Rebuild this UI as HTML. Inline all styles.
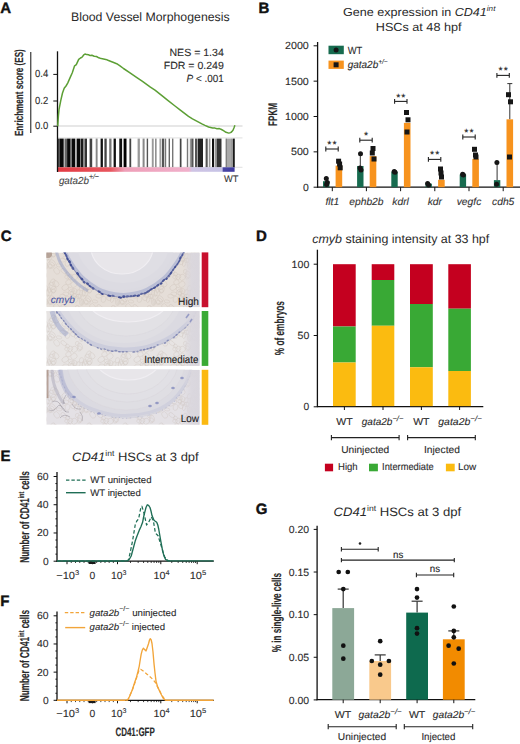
<!DOCTYPE html>
<html><head><meta charset="utf-8"><title>Figure</title>
<style>
html,body{margin:0;padding:0;background:#fff;}
body{width:520px;height:744px;overflow:hidden;}
svg{display:block;font-family:"Liberation Sans",sans-serif;text-rendering:geometricPrecision;}
</style></head>
<body>
<svg width="520" height="744" viewBox="0 0 520 744">
<rect width="520" height="744" fill="#fff"/>
<text x="0.3" y="13.2" font-size="15" fill="#111" font-weight="bold" stroke="#111" stroke-width="0.4">A</text>
<text x="71" y="21.3" font-size="12.2" fill="#2a2a2a" textLength="158.6" lengthAdjust="spacingAndGlyphs" stroke="none">Blood Vessel Morphogenesis</text>
<text transform="translate(22.7,136.1) rotate(-90)" font-size="11.8" fill="#2a2a2a" textLength="86.9" lengthAdjust="spacingAndGlyphs" stroke="#2a2a2a" stroke-width="0.15" font-weight="bold">Enrichment score (ES)</text>
<line x1="30.8" y1="52" x2="30.8" y2="133" stroke="#111" stroke-width="1"/>
<line x1="57.5" y1="126" x2="242.5" y2="126" stroke="#cfcfcf" stroke-width="1"/>
<line x1="57.5" y1="137.9" x2="242.5" y2="137.9" stroke="#d8d8d8" stroke-width="0.8"/>
<line x1="57.5" y1="167.3" x2="242.5" y2="167.3" stroke="#d8d8d8" stroke-width="0.8"/>
<rect x="57.6" y="138.6" width="2.2" height="28.7" fill="#444"/>
<rect x="59.8" y="138.6" width="3.9" height="28.7" fill="#0a0a0a"/>
<rect x="64.5" y="138.6" width="2.6" height="28.7" fill="#666"/>
<rect x="67.1" y="138.6" width="3.5" height="28.7" fill="#0a0a0a"/>
<rect x="70.6" y="138.6" width="1.3" height="28.7" fill="#777"/>
<rect x="71.9" y="138.6" width="3.4" height="28.7" fill="#0a0a0a"/>
<rect x="76.6" y="138.6" width="3.5" height="28.7" fill="#0a0a0a"/>
<rect x="80.5" y="138.6" width="3" height="28.7" fill="#1a1a1a"/>
<rect x="83.5" y="138.6" width="1.3" height="28.7" fill="#888"/>
<rect x="84.8" y="138.6" width="2.2" height="28.7" fill="#333"/>
<rect x="89.6" y="138.6" width="2.6" height="28.7" fill="#444"/>
<rect x="95.7" y="138.6" width="1.9" height="28.7" fill="#888"/>
<rect x="100.6" y="138.6" width="2.3" height="28.7" fill="#111"/>
<rect x="104.4" y="138.6" width="2.3" height="28.7" fill="#444"/>
<rect x="109.2" y="138.6" width="2.3" height="28.7" fill="#777"/>
<rect x="113.6" y="138.6" width="2.3" height="28.7" fill="#111"/>
<rect x="119.3" y="138.6" width="2.8" height="28.7" fill="#111"/>
<rect x="123.6" y="138.6" width="2.9" height="28.7" fill="#000"/>
<rect x="129.4" y="138.6" width="1.8" height="28.7" fill="#444"/>
<rect x="137.6" y="138.6" width="2.3" height="28.7" fill="#999"/>
<rect x="142.6" y="138.6" width="2" height="28.7" fill="#888"/>
<rect x="146.7" y="138.6" width="1.4" height="28.7" fill="#555"/>
<rect x="151.8" y="138.6" width="1.9" height="28.7" fill="#999"/>
<rect x="155.2" y="138.6" width="1.3" height="28.7" fill="#777"/>
<rect x="159.5" y="138.6" width="1.4" height="28.7" fill="#999"/>
<rect x="161.8" y="138.6" width="2.4" height="28.7" fill="#555"/>
<rect x="164.8" y="138.6" width="1.4" height="28.7" fill="#777"/>
<rect x="168.6" y="138.6" width="1.4" height="28.7" fill="#666"/>
<rect x="172" y="138.6" width="1.4" height="28.7" fill="#777"/>
<rect x="179.8" y="138.6" width="1.7" height="28.7" fill="#444"/>
<rect x="186.8" y="138.6" width="1.4" height="28.7" fill="#777"/>
<rect x="189.8" y="138.6" width="1.5" height="28.7" fill="#999"/>
<rect x="191.3" y="138.6" width="2.2" height="28.7" fill="#555"/>
<rect x="195" y="138.6" width="2.2" height="28.7" fill="#555"/>
<rect x="197.7" y="138.6" width="5.3" height="28.7" fill="#222"/>
<rect x="205.6" y="138.6" width="2.1" height="28.7" fill="#555"/>
<rect x="208.8" y="138.6" width="1.6" height="28.7" fill="#999"/>
<rect x="212" y="138.6" width="2" height="28.7" fill="#111"/>
<rect x="214.6" y="138.6" width="2.1" height="28.7" fill="#999"/>
<rect x="216.7" y="138.6" width="4.8" height="28.7" fill="#333"/>
<rect x="225.7" y="138.6" width="1.1" height="28.7" fill="#555"/>
<rect x="226.8" y="138.6" width="4.8" height="28.7" fill="#aaa"/>
<rect x="231.6" y="138.6" width="1" height="28.7" fill="#555"/>
<rect x="233.1" y="138.6" width="1.6" height="28.7" fill="#000"/>
<defs><linearGradient id="cbA" x1="57.5" x2="234.6" y1="0" y2="0" gradientUnits="userSpaceOnUse">
<stop offset="0" stop-color="#e23b43"/><stop offset="0.3" stop-color="#e8565e"/><stop offset="0.38" stop-color="#ee9fb8"/>
<stop offset="0.74" stop-color="#f0b0cb"/><stop offset="0.76" stop-color="#cfc4e4"/><stop offset="0.93" stop-color="#c6c3e6"/>
<stop offset="0.935" stop-color="#4a47a6"/><stop offset="1" stop-color="#3e3aa0"/></linearGradient></defs>
<rect x="57.5" y="167.3" width="177.1" height="4.5" fill="url(#cbA)"/>
<line x1="57.5" y1="51.3" x2="57.5" y2="172" stroke="#111" stroke-width="1.3"/>
<line x1="53.3" y1="74.4" x2="57.5" y2="74.4" stroke="#111" stroke-width="1"/>
<text x="48.3" y="77.4" font-size="10.4" fill="#2a2a2a" text-anchor="end" textLength="13.2" lengthAdjust="spacingAndGlyphs" stroke="#2a2a2a" stroke-width="0.1">0.4</text>
<line x1="53.3" y1="101" x2="57.5" y2="101" stroke="#111" stroke-width="1"/>
<text x="48.3" y="104" font-size="10.4" fill="#2a2a2a" text-anchor="end" textLength="13.2" lengthAdjust="spacingAndGlyphs" stroke="#2a2a2a" stroke-width="0.1">0.2</text>
<line x1="53.3" y1="126.2" x2="57.5" y2="126.2" stroke="#111" stroke-width="1"/>
<text x="48.3" y="129.2" font-size="10.4" fill="#2a2a2a" text-anchor="end" textLength="13.2" lengthAdjust="spacingAndGlyphs" stroke="#2a2a2a" stroke-width="0.1">0.0</text>
<polyline points="57.7,126.3 58.4,116 59,109.6 60.8,100.4 62.5,93 64.2,88.3 66,86 67.7,83.1 70,77.9 72.3,72.7 74.6,65.8 76.3,64.6 78.7,59.4 80.5,58 82.1,57.1 83.5,55.2 85,54 86.8,54.6 88.5,54.8 90.2,55.6 91.9,55.2 94.2,56.2 96.5,56.5 98.8,57.8 101.2,58.6 103.5,58.9 105.8,59.4 108,60.3 110.4,61.2 113,62.2 116.7,63.7 120,65.8 123.5,68.5 130,72.8 136.9,77.6 142.5,81.4 150.4,87.2 155,90.2 163.8,97.2 167.5,100.1 175,106 180,109.8 188.5,116.3 192.5,118.8 201.9,123.9 205,125.4 208.6,127 212.7,128 215,128.1 217,128.8 219.4,128.6 221.5,129.5 223.5,130.7 226,132.3 228.8,133.1 230.5,132.6 231.5,132 233,130.3 234.2,127.3 234.9,125.3" fill="none" stroke="#5c9f35" stroke-width="1.5" stroke-linejoin="round"/>
<text x="223.8" y="55.5" font-size="10.4" fill="#2a2a2a" text-anchor="end" textLength="54.3" lengthAdjust="spacingAndGlyphs" stroke="#2a2a2a" stroke-width="0.1">NES = 1.34</text>
<text x="223.8" y="69.3" font-size="10.4" fill="#2a2a2a" text-anchor="end" textLength="60" lengthAdjust="spacingAndGlyphs" stroke="#2a2a2a" stroke-width="0.1">FDR = 0.249</text>
<text x="223.8" y="82.3" font-size="10.4" fill="#2a2a2a" text-anchor="end" textLength="37.3" lengthAdjust="spacingAndGlyphs" stroke="#2a2a2a" stroke-width="0.1"><tspan font-style="italic">P</tspan> &lt; .001</text>
<text x="58.9" y="183.6" font-size="10.2" fill="#444" font-style="italic" textLength="40" lengthAdjust="spacingAndGlyphs" stroke="#444" stroke-width="0.1">gata2b<tspan font-size="7.2" dy="-4.9" font-style="italic">+/−</tspan></text>
<text x="224" y="182.4" font-size="9.6" fill="#333" textLength="14.4" lengthAdjust="spacingAndGlyphs" stroke="#333" stroke-width="0.1">WT</text>
<text x="258.5" y="13.2" font-size="15" fill="#111" font-weight="bold" stroke="#111" stroke-width="0.4">B</text>
<text x="343" y="15.5" font-size="11.6" fill="#2a2a2a" textLength="152.4" lengthAdjust="spacingAndGlyphs" stroke="none">Gene expression in <tspan font-style="italic">CD41</tspan><tspan font-style="italic" font-size="7.5" dy="-4.6">int</tspan></text>
<text x="375.8" y="30.5" font-size="11.8" fill="#2a2a2a" textLength="85.7" lengthAdjust="spacingAndGlyphs" stroke="none">HSCs at 48 hpf</text>
<text transform="translate(277,125.9) rotate(-90)" font-size="12.5" fill="#2a2a2a" textLength="22.8" lengthAdjust="spacingAndGlyphs" stroke="#2a2a2a" stroke-width="0.15" font-weight="bold">FPKM</text>
<line x1="317.6" y1="42" x2="317.6" y2="187.7" stroke="#111" stroke-width="1.3"/>
<line x1="317.1" y1="187.2" x2="520" y2="187.2" stroke="#111" stroke-width="1.3"/>
<line x1="313.6" y1="187.2" x2="317.6" y2="187.2" stroke="#111" stroke-width="1"/>
<text x="308.8" y="190.8" font-size="10.4" fill="#2a2a2a" text-anchor="end" textLength="5.8" lengthAdjust="spacingAndGlyphs" stroke="#2a2a2a" stroke-width="0.1">0</text>
<line x1="313.6" y1="151.85" x2="317.6" y2="151.85" stroke="#111" stroke-width="1"/>
<text x="308.8" y="155.45" font-size="10.4" fill="#2a2a2a" text-anchor="end" textLength="17.8" lengthAdjust="spacingAndGlyphs" stroke="#2a2a2a" stroke-width="0.1">500</text>
<line x1="313.6" y1="116.5" x2="317.6" y2="116.5" stroke="#111" stroke-width="1"/>
<text x="308.8" y="120.1" font-size="10.4" fill="#2a2a2a" text-anchor="end" textLength="23.8" lengthAdjust="spacingAndGlyphs" stroke="#2a2a2a" stroke-width="0.1">1000</text>
<line x1="313.6" y1="81.15" x2="317.6" y2="81.15" stroke="#111" stroke-width="1"/>
<text x="308.8" y="84.75" font-size="10.4" fill="#2a2a2a" text-anchor="end" textLength="23.8" lengthAdjust="spacingAndGlyphs" stroke="#2a2a2a" stroke-width="0.1">1500</text>
<line x1="313.6" y1="45.8" x2="317.6" y2="45.8" stroke="#111" stroke-width="1"/>
<text x="308.8" y="49.4" font-size="10.4" fill="#2a2a2a" text-anchor="end" textLength="23.8" lengthAdjust="spacingAndGlyphs" stroke="#2a2a2a" stroke-width="0.1">2000</text>
<line x1="332.3" y1="187.2" x2="332.3" y2="191.2" stroke="#111" stroke-width="1"/>
<line x1="366.4" y1="187.2" x2="366.4" y2="191.2" stroke="#111" stroke-width="1"/>
<line x1="400.6" y1="187.2" x2="400.6" y2="191.2" stroke="#111" stroke-width="1"/>
<line x1="434.8" y1="187.2" x2="434.8" y2="191.2" stroke="#111" stroke-width="1"/>
<line x1="469" y1="187.2" x2="469" y2="191.2" stroke="#111" stroke-width="1"/>
<line x1="503.2" y1="187.2" x2="503.2" y2="191.2" stroke="#111" stroke-width="1"/>
<rect x="323" y="181.19" width="6.4" height="6.01" fill="#176b4f"/>
<rect x="335.6" y="165.64" width="6.6" height="21.56" fill="#f7931e"/>
<circle cx="326.3" cy="178.5" r="2.5" fill="#161616"/>
<circle cx="327.3" cy="182.5" r="2.5" fill="#161616"/>
<circle cx="326.6" cy="184.5" r="2.5" fill="#161616"/>
<rect x="336.1" y="158.7" width="5" height="5" fill="#161616"/>
<rect x="337.1" y="161.5" width="5" height="5" fill="#161616"/>
<rect x="337.7" y="165.3" width="5" height="5" fill="#161616"/>
<line x1="360.3" y1="153.7" x2="360.3" y2="165.99" stroke="#333" stroke-width="1"/>
<rect x="357.1" y="165.99" width="6.4" height="21.21" fill="#176b4f"/>
<rect x="369.7" y="156.09" width="6.6" height="31.11" fill="#f7931e"/>
<circle cx="360.5" cy="153.7" r="2.5" fill="#161616"/>
<circle cx="360" cy="168" r="2.5" fill="#161616"/>
<circle cx="361" cy="170" r="2.5" fill="#161616"/>
<rect x="370.5" y="146" width="5" height="5" fill="#161616"/>
<rect x="369.8" y="150.5" width="5" height="5" fill="#161616"/>
<rect x="371.5" y="156.5" width="5" height="5" fill="#161616"/>
<rect x="391.3" y="171.65" width="6.4" height="15.55" fill="#176b4f"/>
<rect x="403.9" y="122.86" width="6.6" height="64.34" fill="#f7931e"/>
<circle cx="394.2" cy="171.6" r="2.5" fill="#161616"/>
<circle cx="395" cy="172.2" r="2.5" fill="#161616"/>
<rect x="404" y="110" width="5" height="5" fill="#161616"/>
<rect x="405.5" y="117.3" width="5" height="5" fill="#161616"/>
<rect x="404.5" y="129.5" width="5" height="5" fill="#161616"/>
<rect x="425.5" y="183.66" width="6.4" height="3.53" fill="#176b4f"/>
<rect x="438.1" y="179.78" width="6.6" height="7.42" fill="#f7931e"/>
<circle cx="427.6" cy="183.5" r="2.5" fill="#161616"/>
<circle cx="428.6" cy="185" r="2.5" fill="#161616"/>
<rect x="438" y="166.5" width="5" height="5" fill="#161616"/>
<rect x="438.5" y="170.5" width="5" height="5" fill="#161616"/>
<rect x="439" y="174.5" width="5" height="5" fill="#161616"/>
<rect x="459.7" y="174.47" width="6.4" height="12.73" fill="#176b4f"/>
<rect x="472.3" y="158.92" width="6.6" height="28.28" fill="#f7931e"/>
<circle cx="462.6" cy="174.3" r="2.5" fill="#161616"/>
<circle cx="463.4" cy="175" r="2.5" fill="#161616"/>
<rect x="472" y="146.8" width="5" height="5" fill="#161616"/>
<rect x="473" y="152.5" width="5" height="5" fill="#161616"/>
<rect x="473.5" y="154.5" width="5" height="5" fill="#161616"/>
<line x1="497.1" y1="162.4" x2="497.1" y2="180.13" stroke="#333" stroke-width="1"/>
<line x1="509.8" y1="83.6" x2="509.8" y2="119.33" stroke="#333" stroke-width="1"/>
<line x1="507.3" y1="83.6" x2="512.3" y2="83.6" stroke="#333" stroke-width="1"/>
<rect x="493.9" y="180.13" width="6.4" height="7.07" fill="#176b4f"/>
<rect x="506.5" y="119.33" width="6.6" height="67.87" fill="#f7931e"/>
<circle cx="496.9" cy="162.4" r="2.5" fill="#161616"/>
<circle cx="496.6" cy="184.2" r="2.5" fill="#161616"/>
<rect x="506" y="92.2" width="5" height="5" fill="#161616"/>
<rect x="508" y="99.3" width="5" height="5" fill="#161616"/>
<rect x="507" y="154.5" width="5" height="5" fill="#161616"/>
<line x1="325.8" y1="149" x2="338.2" y2="149" stroke="#222" stroke-width="1.1"/>
<line x1="325.8" y1="146.6" x2="325.8" y2="151.4" stroke="#222" stroke-width="1.1"/>
<line x1="338.2" y1="146.6" x2="338.2" y2="151.4" stroke="#222" stroke-width="1.1"/>
<text x="329.4" y="148" font-size="10.5" fill="#1a1a1a" text-anchor="middle" stroke="#1a1a1a" stroke-width="0.1">*</text>
<text x="334.6" y="148" font-size="10.5" fill="#1a1a1a" text-anchor="middle" stroke="#1a1a1a" stroke-width="0.1">*</text>
<line x1="359.8" y1="140.2" x2="372.2" y2="140.2" stroke="#222" stroke-width="1.1"/>
<line x1="359.8" y1="137.8" x2="359.8" y2="142.6" stroke="#222" stroke-width="1.1"/>
<line x1="372.2" y1="137.8" x2="372.2" y2="142.6" stroke="#222" stroke-width="1.1"/>
<text x="366" y="138.8" font-size="10.5" fill="#1a1a1a" text-anchor="middle" stroke="#1a1a1a" stroke-width="0.1">*</text>
<line x1="394.6" y1="101.4" x2="407" y2="101.4" stroke="#222" stroke-width="1.1"/>
<line x1="394.6" y1="99" x2="394.6" y2="103.8" stroke="#222" stroke-width="1.1"/>
<line x1="407" y1="99" x2="407" y2="103.8" stroke="#222" stroke-width="1.1"/>
<text x="398.2" y="100.5" font-size="10.5" fill="#1a1a1a" text-anchor="middle" stroke="#1a1a1a" stroke-width="0.1">*</text>
<text x="403.4" y="100.5" font-size="10.5" fill="#1a1a1a" text-anchor="middle" stroke="#1a1a1a" stroke-width="0.1">*</text>
<line x1="428.4" y1="159.4" x2="440.8" y2="159.4" stroke="#222" stroke-width="1.1"/>
<line x1="428.4" y1="157" x2="428.4" y2="161.8" stroke="#222" stroke-width="1.1"/>
<line x1="440.8" y1="157" x2="440.8" y2="161.8" stroke="#222" stroke-width="1.1"/>
<text x="432" y="158.2" font-size="10.5" fill="#1a1a1a" text-anchor="middle" stroke="#1a1a1a" stroke-width="0.1">*</text>
<text x="437.2" y="158.2" font-size="10.5" fill="#1a1a1a" text-anchor="middle" stroke="#1a1a1a" stroke-width="0.1">*</text>
<line x1="462.8" y1="137" x2="475.2" y2="137" stroke="#222" stroke-width="1.1"/>
<line x1="462.8" y1="134.6" x2="462.8" y2="139.4" stroke="#222" stroke-width="1.1"/>
<line x1="475.2" y1="134.6" x2="475.2" y2="139.4" stroke="#222" stroke-width="1.1"/>
<text x="466.4" y="135.9" font-size="10.5" fill="#1a1a1a" text-anchor="middle" stroke="#1a1a1a" stroke-width="0.1">*</text>
<text x="471.6" y="135.9" font-size="10.5" fill="#1a1a1a" text-anchor="middle" stroke="#1a1a1a" stroke-width="0.1">*</text>
<line x1="496.9" y1="75.4" x2="509.3" y2="75.4" stroke="#222" stroke-width="1.1"/>
<line x1="496.9" y1="73" x2="496.9" y2="77.8" stroke="#222" stroke-width="1.1"/>
<line x1="509.3" y1="73" x2="509.3" y2="77.8" stroke="#222" stroke-width="1.1"/>
<text x="500.5" y="74.1" font-size="10.5" fill="#1a1a1a" text-anchor="middle" stroke="#1a1a1a" stroke-width="0.1">*</text>
<text x="505.7" y="74.1" font-size="10.5" fill="#1a1a1a" text-anchor="middle" stroke="#1a1a1a" stroke-width="0.1">*</text>
<rect x="328.5" y="45.7" width="15.3" height="8.5" fill="#176b4f"/>
<circle cx="336.1" cy="50" r="2.5" fill="#161616"/>
<text x="347.7" y="53.5" font-size="10.3" fill="#2a2a2a" textLength="14.6" lengthAdjust="spacingAndGlyphs" stroke="#2a2a2a" stroke-width="0.1">WT</text>
<rect x="328.5" y="60.6" width="15.3" height="8.3" fill="#f7931e"/>
<rect x="333.6" y="62.3" width="5" height="5" fill="#161616"/>
<text x="347.7" y="68.2" font-size="10.3" fill="#2a2a2a" font-style="italic" textLength="40" lengthAdjust="spacingAndGlyphs" stroke="#2a2a2a" stroke-width="0.1">gata2b<tspan font-size="6.8" dy="-4.2">+/−</tspan></text>
<text x="332.3" y="205.2" font-size="10.3" fill="#333" font-style="italic" text-anchor="middle" stroke="#333" stroke-width="0.1">flt1</text>
<text x="366.4" y="205.2" font-size="10.3" fill="#333" font-style="italic" text-anchor="middle" stroke="#333" stroke-width="0.1">ephb2b</text>
<text x="400.6" y="205.2" font-size="10.3" fill="#333" font-style="italic" text-anchor="middle" stroke="#333" stroke-width="0.1">kdrl</text>
<text x="434.8" y="205.2" font-size="10.3" fill="#333" font-style="italic" text-anchor="middle" stroke="#333" stroke-width="0.1">kdr</text>
<text x="469" y="205.2" font-size="10.3" fill="#333" font-style="italic" text-anchor="middle" stroke="#333" stroke-width="0.1">vegfc</text>
<text x="503.2" y="205.2" font-size="10.3" fill="#333" font-style="italic" text-anchor="middle" stroke="#333" stroke-width="0.1">cdh5</text>
<text x="0.8" y="241.3" font-size="15" fill="#111" font-weight="bold" stroke="#111" stroke-width="0.4">C</text>
<defs>
<clipPath id="c1"><rect x="46.3" y="252.4" width="153.3" height="54.8"/></clipPath>
<clipPath id="c2"><rect x="46.3" y="311" width="153.3" height="54.9"/></clipPath>
<clipPath id="c3"><rect x="46.3" y="369.8" width="153.3" height="55"/></clipPath>
<linearGradient id="rstrip" x1="0" x2="1" y1="0" y2="0"><stop offset="0" stop-color="#dad7de" stop-opacity="0"/><stop offset="0.5" stop-color="#dad7de" stop-opacity="0.9"/><stop offset="1" stop-color="#d9d6dd" stop-opacity="1"/></linearGradient>
<filter id="tex" x="0" y="0" width="1" height="1"><feTurbulence type="fractalNoise" baseFrequency="0.35" numOctaves="2" seed="3"/>
<feColorMatrix values="0 0 0 0 0.55  0 0 0 0 0.45  0 0 0 0 0.38  0 0 0 0.9 -0.35"/></filter>
</defs>
<defs><pattern id="cellpat" patternUnits="userSpaceOnUse" width="36" height="36"><g fill="none" stroke="#b9aa9e" stroke-width="0.5" opacity="0.4"><ellipse cx="-24.34" cy="-30.57" rx="3.1" ry="1.52" transform="rotate(96.46 -24.34 -30.57)"/><ellipse cx="-24.34" cy="5.43" rx="3.1" ry="1.52" transform="rotate(96.46 -24.34 5.43)"/><ellipse cx="-24.34" cy="41.43" rx="3.1" ry="1.52" transform="rotate(96.46 -24.34 41.43)"/><ellipse cx="11.66" cy="-30.57" rx="3.1" ry="1.52" transform="rotate(96.46 11.66 -30.57)"/><ellipse cx="11.66" cy="5.43" rx="3.1" ry="1.52" transform="rotate(96.46 11.66 5.43)"/><ellipse cx="11.66" cy="41.43" rx="3.1" ry="1.52" transform="rotate(96.46 11.66 41.43)"/><ellipse cx="47.66" cy="-30.57" rx="3.1" ry="1.52" transform="rotate(96.46 47.66 -30.57)"/><ellipse cx="47.66" cy="5.43" rx="3.1" ry="1.52" transform="rotate(96.46 47.66 5.43)"/><ellipse cx="47.66" cy="41.43" rx="3.1" ry="1.52" transform="rotate(96.46 47.66 41.43)"/><ellipse cx="-22.84" cy="-33.91" rx="2.81" ry="1.46" transform="rotate(78.06 -22.84 -33.91)"/><ellipse cx="-22.84" cy="2.09" rx="2.81" ry="1.46" transform="rotate(78.06 -22.84 2.09)"/><ellipse cx="-22.84" cy="38.09" rx="2.81" ry="1.46" transform="rotate(78.06 -22.84 38.09)"/><ellipse cx="13.16" cy="-33.91" rx="2.81" ry="1.46" transform="rotate(78.06 13.16 -33.91)"/><ellipse cx="13.16" cy="2.09" rx="2.81" ry="1.46" transform="rotate(78.06 13.16 2.09)"/><ellipse cx="13.16" cy="38.09" rx="2.81" ry="1.46" transform="rotate(78.06 13.16 38.09)"/><ellipse cx="49.16" cy="-33.91" rx="2.81" ry="1.46" transform="rotate(78.06 49.16 -33.91)"/><ellipse cx="49.16" cy="2.09" rx="2.81" ry="1.46" transform="rotate(78.06 49.16 2.09)"/><ellipse cx="49.16" cy="38.09" rx="2.81" ry="1.46" transform="rotate(78.06 49.16 38.09)"/><ellipse cx="-33.49" cy="-32.73" rx="2.65" ry="2.72" transform="rotate(22.28 -33.49 -32.73)"/><ellipse cx="-33.49" cy="3.27" rx="2.65" ry="2.72" transform="rotate(22.28 -33.49 3.27)"/><ellipse cx="-33.49" cy="39.27" rx="2.65" ry="2.72" transform="rotate(22.28 -33.49 39.27)"/><ellipse cx="2.51" cy="-32.73" rx="2.65" ry="2.72" transform="rotate(22.28 2.51 -32.73)"/><ellipse cx="2.51" cy="3.27" rx="2.65" ry="2.72" transform="rotate(22.28 2.51 3.27)"/><ellipse cx="2.51" cy="39.27" rx="2.65" ry="2.72" transform="rotate(22.28 2.51 39.27)"/><ellipse cx="38.51" cy="-32.73" rx="2.65" ry="2.72" transform="rotate(22.28 38.51 -32.73)"/><ellipse cx="38.51" cy="3.27" rx="2.65" ry="2.72" transform="rotate(22.28 38.51 3.27)"/><ellipse cx="38.51" cy="39.27" rx="2.65" ry="2.72" transform="rotate(22.28 38.51 39.27)"/><ellipse cx="-27.96" cy="-13.41" rx="3.7" ry="2.32" transform="rotate(71.4 -27.96 -13.41)"/><ellipse cx="-27.96" cy="22.59" rx="3.7" ry="2.32" transform="rotate(71.4 -27.96 22.59)"/><ellipse cx="-27.96" cy="58.59" rx="3.7" ry="2.32" transform="rotate(71.4 -27.96 58.59)"/><ellipse cx="8.04" cy="-13.41" rx="3.7" ry="2.32" transform="rotate(71.4 8.04 -13.41)"/><ellipse cx="8.04" cy="22.59" rx="3.7" ry="2.32" transform="rotate(71.4 8.04 22.59)"/><ellipse cx="8.04" cy="58.59" rx="3.7" ry="2.32" transform="rotate(71.4 8.04 58.59)"/><ellipse cx="44.04" cy="-13.41" rx="3.7" ry="2.32" transform="rotate(71.4 44.04 -13.41)"/><ellipse cx="44.04" cy="22.59" rx="3.7" ry="2.32" transform="rotate(71.4 44.04 22.59)"/><ellipse cx="44.04" cy="58.59" rx="3.7" ry="2.32" transform="rotate(71.4 44.04 58.59)"/><ellipse cx="-0.85" cy="-34.32" rx="3.52" ry="1.86" transform="rotate(25.97 -0.85 -34.32)"/><ellipse cx="-0.85" cy="1.68" rx="3.52" ry="1.86" transform="rotate(25.97 -0.85 1.68)"/><ellipse cx="-0.85" cy="37.68" rx="3.52" ry="1.86" transform="rotate(25.97 -0.85 37.68)"/><ellipse cx="35.15" cy="-34.32" rx="3.52" ry="1.86" transform="rotate(25.97 35.15 -34.32)"/><ellipse cx="35.15" cy="1.68" rx="3.52" ry="1.86" transform="rotate(25.97 35.15 1.68)"/><ellipse cx="35.15" cy="37.68" rx="3.52" ry="1.86" transform="rotate(25.97 35.15 37.68)"/><ellipse cx="71.15" cy="-34.32" rx="3.52" ry="1.86" transform="rotate(25.97 71.15 -34.32)"/><ellipse cx="71.15" cy="1.68" rx="3.52" ry="1.86" transform="rotate(25.97 71.15 1.68)"/><ellipse cx="71.15" cy="37.68" rx="3.52" ry="1.86" transform="rotate(25.97 71.15 37.68)"/><ellipse cx="-31.76" cy="-24.89" rx="3.43" ry="1.69" transform="rotate(104.69 -31.76 -24.89)"/><ellipse cx="-31.76" cy="11.11" rx="3.43" ry="1.69" transform="rotate(104.69 -31.76 11.11)"/><ellipse cx="-31.76" cy="47.11" rx="3.43" ry="1.69" transform="rotate(104.69 -31.76 47.11)"/><ellipse cx="4.24" cy="-24.89" rx="3.43" ry="1.69" transform="rotate(104.69 4.24 -24.89)"/><ellipse cx="4.24" cy="11.11" rx="3.43" ry="1.69" transform="rotate(104.69 4.24 11.11)"/><ellipse cx="4.24" cy="47.11" rx="3.43" ry="1.69" transform="rotate(104.69 4.24 47.11)"/><ellipse cx="40.24" cy="-24.89" rx="3.43" ry="1.69" transform="rotate(104.69 40.24 -24.89)"/><ellipse cx="40.24" cy="11.11" rx="3.43" ry="1.69" transform="rotate(104.69 40.24 11.11)"/><ellipse cx="40.24" cy="47.11" rx="3.43" ry="1.69" transform="rotate(104.69 40.24 47.11)"/><ellipse cx="-13" cy="-22.59" rx="2.9" ry="1.5" transform="rotate(10.73 -13 -22.59)"/><ellipse cx="-13" cy="13.41" rx="2.9" ry="1.5" transform="rotate(10.73 -13 13.41)"/><ellipse cx="-13" cy="49.41" rx="2.9" ry="1.5" transform="rotate(10.73 -13 49.41)"/><ellipse cx="23" cy="-22.59" rx="2.9" ry="1.5" transform="rotate(10.73 23 -22.59)"/><ellipse cx="23" cy="13.41" rx="2.9" ry="1.5" transform="rotate(10.73 23 13.41)"/><ellipse cx="23" cy="49.41" rx="2.9" ry="1.5" transform="rotate(10.73 23 49.41)"/><ellipse cx="59" cy="-22.59" rx="2.9" ry="1.5" transform="rotate(10.73 59 -22.59)"/><ellipse cx="59" cy="13.41" rx="2.9" ry="1.5" transform="rotate(10.73 59 13.41)"/><ellipse cx="59" cy="49.41" rx="2.9" ry="1.5" transform="rotate(10.73 59 49.41)"/><ellipse cx="-28.59" cy="-11.51" rx="2.66" ry="1.9" transform="rotate(105.4 -28.59 -11.51)"/><ellipse cx="-28.59" cy="24.49" rx="2.66" ry="1.9" transform="rotate(105.4 -28.59 24.49)"/><ellipse cx="-28.59" cy="60.49" rx="2.66" ry="1.9" transform="rotate(105.4 -28.59 60.49)"/><ellipse cx="7.41" cy="-11.51" rx="2.66" ry="1.9" transform="rotate(105.4 7.41 -11.51)"/><ellipse cx="7.41" cy="24.49" rx="2.66" ry="1.9" transform="rotate(105.4 7.41 24.49)"/><ellipse cx="7.41" cy="60.49" rx="2.66" ry="1.9" transform="rotate(105.4 7.41 60.49)"/><ellipse cx="43.41" cy="-11.51" rx="2.66" ry="1.9" transform="rotate(105.4 43.41 -11.51)"/><ellipse cx="43.41" cy="24.49" rx="2.66" ry="1.9" transform="rotate(105.4 43.41 24.49)"/><ellipse cx="43.41" cy="60.49" rx="2.66" ry="1.9" transform="rotate(105.4 43.41 60.49)"/><ellipse cx="-19.69" cy="-25.21" rx="3.39" ry="2.52" transform="rotate(43.94 -19.69 -25.21)"/><ellipse cx="-19.69" cy="10.79" rx="3.39" ry="2.52" transform="rotate(43.94 -19.69 10.79)"/><ellipse cx="-19.69" cy="46.79" rx="3.39" ry="2.52" transform="rotate(43.94 -19.69 46.79)"/><ellipse cx="16.31" cy="-25.21" rx="3.39" ry="2.52" transform="rotate(43.94 16.31 -25.21)"/><ellipse cx="16.31" cy="10.79" rx="3.39" ry="2.52" transform="rotate(43.94 16.31 10.79)"/><ellipse cx="16.31" cy="46.79" rx="3.39" ry="2.52" transform="rotate(43.94 16.31 46.79)"/><ellipse cx="52.31" cy="-25.21" rx="3.39" ry="2.52" transform="rotate(43.94 52.31 -25.21)"/><ellipse cx="52.31" cy="10.79" rx="3.39" ry="2.52" transform="rotate(43.94 52.31 10.79)"/><ellipse cx="52.31" cy="46.79" rx="3.39" ry="2.52" transform="rotate(43.94 52.31 46.79)"/><ellipse cx="-15.32" cy="-17.09" rx="3.55" ry="2.57" transform="rotate(51.83 -15.32 -17.09)"/><ellipse cx="-15.32" cy="18.91" rx="3.55" ry="2.57" transform="rotate(51.83 -15.32 18.91)"/><ellipse cx="-15.32" cy="54.91" rx="3.55" ry="2.57" transform="rotate(51.83 -15.32 54.91)"/><ellipse cx="20.68" cy="-17.09" rx="3.55" ry="2.57" transform="rotate(51.83 20.68 -17.09)"/><ellipse cx="20.68" cy="18.91" rx="3.55" ry="2.57" transform="rotate(51.83 20.68 18.91)"/><ellipse cx="20.68" cy="54.91" rx="3.55" ry="2.57" transform="rotate(51.83 20.68 54.91)"/><ellipse cx="56.68" cy="-17.09" rx="3.55" ry="2.57" transform="rotate(51.83 56.68 -17.09)"/><ellipse cx="56.68" cy="18.91" rx="3.55" ry="2.57" transform="rotate(51.83 56.68 18.91)"/><ellipse cx="56.68" cy="54.91" rx="3.55" ry="2.57" transform="rotate(51.83 56.68 54.91)"/><ellipse cx="-0.71" cy="-31.75" rx="2.64" ry="2.61" transform="rotate(27.36 -0.71 -31.75)"/><ellipse cx="-0.71" cy="4.25" rx="2.64" ry="2.61" transform="rotate(27.36 -0.71 4.25)"/><ellipse cx="-0.71" cy="40.25" rx="2.64" ry="2.61" transform="rotate(27.36 -0.71 40.25)"/><ellipse cx="35.29" cy="-31.75" rx="2.64" ry="2.61" transform="rotate(27.36 35.29 -31.75)"/><ellipse cx="35.29" cy="4.25" rx="2.64" ry="2.61" transform="rotate(27.36 35.29 4.25)"/><ellipse cx="35.29" cy="40.25" rx="2.64" ry="2.61" transform="rotate(27.36 35.29 40.25)"/><ellipse cx="71.29" cy="-31.75" rx="2.64" ry="2.61" transform="rotate(27.36 71.29 -31.75)"/><ellipse cx="71.29" cy="4.25" rx="2.64" ry="2.61" transform="rotate(27.36 71.29 4.25)"/><ellipse cx="71.29" cy="40.25" rx="2.64" ry="2.61" transform="rotate(27.36 71.29 40.25)"/><ellipse cx="-18.4" cy="-34.59" rx="3.14" ry="2.62" transform="rotate(103.14 -18.4 -34.59)"/><ellipse cx="-18.4" cy="1.41" rx="3.14" ry="2.62" transform="rotate(103.14 -18.4 1.41)"/><ellipse cx="-18.4" cy="37.41" rx="3.14" ry="2.62" transform="rotate(103.14 -18.4 37.41)"/><ellipse cx="17.6" cy="-34.59" rx="3.14" ry="2.62" transform="rotate(103.14 17.6 -34.59)"/><ellipse cx="17.6" cy="1.41" rx="3.14" ry="2.62" transform="rotate(103.14 17.6 1.41)"/><ellipse cx="17.6" cy="37.41" rx="3.14" ry="2.62" transform="rotate(103.14 17.6 37.41)"/><ellipse cx="53.6" cy="-34.59" rx="3.14" ry="2.62" transform="rotate(103.14 53.6 -34.59)"/><ellipse cx="53.6" cy="1.41" rx="3.14" ry="2.62" transform="rotate(103.14 53.6 1.41)"/><ellipse cx="53.6" cy="37.41" rx="3.14" ry="2.62" transform="rotate(103.14 53.6 37.41)"/><ellipse cx="-4.48" cy="-24.71" rx="3.19" ry="2.35" transform="rotate(104.38 -4.48 -24.71)"/><ellipse cx="-4.48" cy="11.29" rx="3.19" ry="2.35" transform="rotate(104.38 -4.48 11.29)"/><ellipse cx="-4.48" cy="47.29" rx="3.19" ry="2.35" transform="rotate(104.38 -4.48 47.29)"/><ellipse cx="31.52" cy="-24.71" rx="3.19" ry="2.35" transform="rotate(104.38 31.52 -24.71)"/><ellipse cx="31.52" cy="11.29" rx="3.19" ry="2.35" transform="rotate(104.38 31.52 11.29)"/><ellipse cx="31.52" cy="47.29" rx="3.19" ry="2.35" transform="rotate(104.38 31.52 47.29)"/><ellipse cx="67.52" cy="-24.71" rx="3.19" ry="2.35" transform="rotate(104.38 67.52 -24.71)"/><ellipse cx="67.52" cy="11.29" rx="3.19" ry="2.35" transform="rotate(104.38 67.52 11.29)"/><ellipse cx="67.52" cy="47.29" rx="3.19" ry="2.35" transform="rotate(104.38 67.52 47.29)"/><ellipse cx="-19.58" cy="-5.76" rx="3.69" ry="2.16" transform="rotate(119.55 -19.58 -5.76)"/><ellipse cx="-19.58" cy="30.24" rx="3.69" ry="2.16" transform="rotate(119.55 -19.58 30.24)"/><ellipse cx="-19.58" cy="66.24" rx="3.69" ry="2.16" transform="rotate(119.55 -19.58 66.24)"/><ellipse cx="16.42" cy="-5.76" rx="3.69" ry="2.16" transform="rotate(119.55 16.42 -5.76)"/><ellipse cx="16.42" cy="30.24" rx="3.69" ry="2.16" transform="rotate(119.55 16.42 30.24)"/><ellipse cx="16.42" cy="66.24" rx="3.69" ry="2.16" transform="rotate(119.55 16.42 66.24)"/><ellipse cx="52.42" cy="-5.76" rx="3.69" ry="2.16" transform="rotate(119.55 52.42 -5.76)"/><ellipse cx="52.42" cy="30.24" rx="3.69" ry="2.16" transform="rotate(119.55 52.42 30.24)"/><ellipse cx="52.42" cy="66.24" rx="3.69" ry="2.16" transform="rotate(119.55 52.42 66.24)"/><ellipse cx="-33.82" cy="-10.75" rx="3.09" ry="2.99" transform="rotate(147.95 -33.82 -10.75)"/><ellipse cx="-33.82" cy="25.25" rx="3.09" ry="2.99" transform="rotate(147.95 -33.82 25.25)"/><ellipse cx="-33.82" cy="61.25" rx="3.09" ry="2.99" transform="rotate(147.95 -33.82 61.25)"/><ellipse cx="2.18" cy="-10.75" rx="3.09" ry="2.99" transform="rotate(147.95 2.18 -10.75)"/><ellipse cx="2.18" cy="25.25" rx="3.09" ry="2.99" transform="rotate(147.95 2.18 25.25)"/><ellipse cx="2.18" cy="61.25" rx="3.09" ry="2.99" transform="rotate(147.95 2.18 61.25)"/><ellipse cx="38.18" cy="-10.75" rx="3.09" ry="2.99" transform="rotate(147.95 38.18 -10.75)"/><ellipse cx="38.18" cy="25.25" rx="3.09" ry="2.99" transform="rotate(147.95 38.18 25.25)"/><ellipse cx="38.18" cy="61.25" rx="3.09" ry="2.99" transform="rotate(147.95 38.18 61.25)"/><ellipse cx="-25.75" cy="-22.11" rx="3.14" ry="1.44" transform="rotate(83.11 -25.75 -22.11)"/><ellipse cx="-25.75" cy="13.89" rx="3.14" ry="1.44" transform="rotate(83.11 -25.75 13.89)"/><ellipse cx="-25.75" cy="49.89" rx="3.14" ry="1.44" transform="rotate(83.11 -25.75 49.89)"/><ellipse cx="10.25" cy="-22.11" rx="3.14" ry="1.44" transform="rotate(83.11 10.25 -22.11)"/><ellipse cx="10.25" cy="13.89" rx="3.14" ry="1.44" transform="rotate(83.11 10.25 13.89)"/><ellipse cx="10.25" cy="49.89" rx="3.14" ry="1.44" transform="rotate(83.11 10.25 49.89)"/><ellipse cx="46.25" cy="-22.11" rx="3.14" ry="1.44" transform="rotate(83.11 46.25 -22.11)"/><ellipse cx="46.25" cy="13.89" rx="3.14" ry="1.44" transform="rotate(83.11 46.25 13.89)"/><ellipse cx="46.25" cy="49.89" rx="3.14" ry="1.44" transform="rotate(83.11 46.25 49.89)"/><ellipse cx="-29.95" cy="-31.78" rx="1.92" ry="2.63" transform="rotate(23.28 -29.95 -31.78)"/><ellipse cx="-29.95" cy="4.22" rx="1.92" ry="2.63" transform="rotate(23.28 -29.95 4.22)"/><ellipse cx="-29.95" cy="40.22" rx="1.92" ry="2.63" transform="rotate(23.28 -29.95 40.22)"/><ellipse cx="6.05" cy="-31.78" rx="1.92" ry="2.63" transform="rotate(23.28 6.05 -31.78)"/><ellipse cx="6.05" cy="4.22" rx="1.92" ry="2.63" transform="rotate(23.28 6.05 4.22)"/><ellipse cx="6.05" cy="40.22" rx="1.92" ry="2.63" transform="rotate(23.28 6.05 40.22)"/><ellipse cx="42.05" cy="-31.78" rx="1.92" ry="2.63" transform="rotate(23.28 42.05 -31.78)"/><ellipse cx="42.05" cy="4.22" rx="1.92" ry="2.63" transform="rotate(23.28 42.05 4.22)"/><ellipse cx="42.05" cy="40.22" rx="1.92" ry="2.63" transform="rotate(23.28 42.05 40.22)"/><ellipse cx="-27.09" cy="-21.93" rx="3.54" ry="1.53" transform="rotate(80.85 -27.09 -21.93)"/><ellipse cx="-27.09" cy="14.07" rx="3.54" ry="1.53" transform="rotate(80.85 -27.09 14.07)"/><ellipse cx="-27.09" cy="50.07" rx="3.54" ry="1.53" transform="rotate(80.85 -27.09 50.07)"/><ellipse cx="8.91" cy="-21.93" rx="3.54" ry="1.53" transform="rotate(80.85 8.91 -21.93)"/><ellipse cx="8.91" cy="14.07" rx="3.54" ry="1.53" transform="rotate(80.85 8.91 14.07)"/><ellipse cx="8.91" cy="50.07" rx="3.54" ry="1.53" transform="rotate(80.85 8.91 50.07)"/><ellipse cx="44.91" cy="-21.93" rx="3.54" ry="1.53" transform="rotate(80.85 44.91 -21.93)"/><ellipse cx="44.91" cy="14.07" rx="3.54" ry="1.53" transform="rotate(80.85 44.91 14.07)"/><ellipse cx="44.91" cy="50.07" rx="3.54" ry="1.53" transform="rotate(80.85 44.91 50.07)"/><ellipse cx="-16.22" cy="-4.2" rx="3.44" ry="2.78" transform="rotate(50.12 -16.22 -4.2)"/><ellipse cx="-16.22" cy="31.8" rx="3.44" ry="2.78" transform="rotate(50.12 -16.22 31.8)"/><ellipse cx="-16.22" cy="67.8" rx="3.44" ry="2.78" transform="rotate(50.12 -16.22 67.8)"/><ellipse cx="19.78" cy="-4.2" rx="3.44" ry="2.78" transform="rotate(50.12 19.78 -4.2)"/><ellipse cx="19.78" cy="31.8" rx="3.44" ry="2.78" transform="rotate(50.12 19.78 31.8)"/><ellipse cx="19.78" cy="67.8" rx="3.44" ry="2.78" transform="rotate(50.12 19.78 67.8)"/><ellipse cx="55.78" cy="-4.2" rx="3.44" ry="2.78" transform="rotate(50.12 55.78 -4.2)"/><ellipse cx="55.78" cy="31.8" rx="3.44" ry="2.78" transform="rotate(50.12 55.78 31.8)"/><ellipse cx="55.78" cy="67.8" rx="3.44" ry="2.78" transform="rotate(50.12 55.78 67.8)"/><ellipse cx="-21.05" cy="-23.08" rx="3.57" ry="2.93" transform="rotate(27.17 -21.05 -23.08)"/><ellipse cx="-21.05" cy="12.92" rx="3.57" ry="2.93" transform="rotate(27.17 -21.05 12.92)"/><ellipse cx="-21.05" cy="48.92" rx="3.57" ry="2.93" transform="rotate(27.17 -21.05 48.92)"/><ellipse cx="14.95" cy="-23.08" rx="3.57" ry="2.93" transform="rotate(27.17 14.95 -23.08)"/><ellipse cx="14.95" cy="12.92" rx="3.57" ry="2.93" transform="rotate(27.17 14.95 12.92)"/><ellipse cx="14.95" cy="48.92" rx="3.57" ry="2.93" transform="rotate(27.17 14.95 48.92)"/><ellipse cx="50.95" cy="-23.08" rx="3.57" ry="2.93" transform="rotate(27.17 50.95 -23.08)"/><ellipse cx="50.95" cy="12.92" rx="3.57" ry="2.93" transform="rotate(27.17 50.95 12.92)"/><ellipse cx="50.95" cy="48.92" rx="3.57" ry="2.93" transform="rotate(27.17 50.95 48.92)"/><ellipse cx="-29.66" cy="-27.65" rx="2.27" ry="2.18" transform="rotate(106.04 -29.66 -27.65)"/><ellipse cx="-29.66" cy="8.35" rx="2.27" ry="2.18" transform="rotate(106.04 -29.66 8.35)"/><ellipse cx="-29.66" cy="44.35" rx="2.27" ry="2.18" transform="rotate(106.04 -29.66 44.35)"/><ellipse cx="6.34" cy="-27.65" rx="2.27" ry="2.18" transform="rotate(106.04 6.34 -27.65)"/><ellipse cx="6.34" cy="8.35" rx="2.27" ry="2.18" transform="rotate(106.04 6.34 8.35)"/><ellipse cx="6.34" cy="44.35" rx="2.27" ry="2.18" transform="rotate(106.04 6.34 44.35)"/><ellipse cx="42.34" cy="-27.65" rx="2.27" ry="2.18" transform="rotate(106.04 42.34 -27.65)"/><ellipse cx="42.34" cy="8.35" rx="2.27" ry="2.18" transform="rotate(106.04 42.34 8.35)"/><ellipse cx="42.34" cy="44.35" rx="2.27" ry="2.18" transform="rotate(106.04 42.34 44.35)"/><ellipse cx="-26.54" cy="-35.85" rx="2.64" ry="1.99" transform="rotate(101.94 -26.54 -35.85)"/><ellipse cx="-26.54" cy="0.15" rx="2.64" ry="1.99" transform="rotate(101.94 -26.54 0.15)"/><ellipse cx="-26.54" cy="36.15" rx="2.64" ry="1.99" transform="rotate(101.94 -26.54 36.15)"/><ellipse cx="9.46" cy="-35.85" rx="2.64" ry="1.99" transform="rotate(101.94 9.46 -35.85)"/><ellipse cx="9.46" cy="0.15" rx="2.64" ry="1.99" transform="rotate(101.94 9.46 0.15)"/><ellipse cx="9.46" cy="36.15" rx="2.64" ry="1.99" transform="rotate(101.94 9.46 36.15)"/><ellipse cx="45.46" cy="-35.85" rx="2.64" ry="1.99" transform="rotate(101.94 45.46 -35.85)"/><ellipse cx="45.46" cy="0.15" rx="2.64" ry="1.99" transform="rotate(101.94 45.46 0.15)"/><ellipse cx="45.46" cy="36.15" rx="2.64" ry="1.99" transform="rotate(101.94 45.46 36.15)"/><ellipse cx="-1.69" cy="-11.14" rx="2.83" ry="2.39" transform="rotate(121.72 -1.69 -11.14)"/><ellipse cx="-1.69" cy="24.86" rx="2.83" ry="2.39" transform="rotate(121.72 -1.69 24.86)"/><ellipse cx="-1.69" cy="60.86" rx="2.83" ry="2.39" transform="rotate(121.72 -1.69 60.86)"/><ellipse cx="34.31" cy="-11.14" rx="2.83" ry="2.39" transform="rotate(121.72 34.31 -11.14)"/><ellipse cx="34.31" cy="24.86" rx="2.83" ry="2.39" transform="rotate(121.72 34.31 24.86)"/><ellipse cx="34.31" cy="60.86" rx="2.83" ry="2.39" transform="rotate(121.72 34.31 60.86)"/><ellipse cx="70.31" cy="-11.14" rx="2.83" ry="2.39" transform="rotate(121.72 70.31 -11.14)"/><ellipse cx="70.31" cy="24.86" rx="2.83" ry="2.39" transform="rotate(121.72 70.31 24.86)"/><ellipse cx="70.31" cy="60.86" rx="2.83" ry="2.39" transform="rotate(121.72 70.31 60.86)"/><ellipse cx="-34.06" cy="-3.62" rx="3.36" ry="2.8" transform="rotate(143.62 -34.06 -3.62)"/><ellipse cx="-34.06" cy="32.38" rx="3.36" ry="2.8" transform="rotate(143.62 -34.06 32.38)"/><ellipse cx="-34.06" cy="68.38" rx="3.36" ry="2.8" transform="rotate(143.62 -34.06 68.38)"/><ellipse cx="1.94" cy="-3.62" rx="3.36" ry="2.8" transform="rotate(143.62 1.94 -3.62)"/><ellipse cx="1.94" cy="32.38" rx="3.36" ry="2.8" transform="rotate(143.62 1.94 32.38)"/><ellipse cx="1.94" cy="68.38" rx="3.36" ry="2.8" transform="rotate(143.62 1.94 68.38)"/><ellipse cx="37.94" cy="-3.62" rx="3.36" ry="2.8" transform="rotate(143.62 37.94 -3.62)"/><ellipse cx="37.94" cy="32.38" rx="3.36" ry="2.8" transform="rotate(143.62 37.94 32.38)"/><ellipse cx="37.94" cy="68.38" rx="3.36" ry="2.8" transform="rotate(143.62 37.94 68.38)"/><ellipse cx="-21.87" cy="-21.64" rx="2.01" ry="2.41" transform="rotate(11.2 -21.87 -21.64)"/><ellipse cx="-21.87" cy="14.36" rx="2.01" ry="2.41" transform="rotate(11.2 -21.87 14.36)"/><ellipse cx="-21.87" cy="50.36" rx="2.01" ry="2.41" transform="rotate(11.2 -21.87 50.36)"/><ellipse cx="14.13" cy="-21.64" rx="2.01" ry="2.41" transform="rotate(11.2 14.13 -21.64)"/><ellipse cx="14.13" cy="14.36" rx="2.01" ry="2.41" transform="rotate(11.2 14.13 14.36)"/><ellipse cx="14.13" cy="50.36" rx="2.01" ry="2.41" transform="rotate(11.2 14.13 50.36)"/><ellipse cx="50.13" cy="-21.64" rx="2.01" ry="2.41" transform="rotate(11.2 50.13 -21.64)"/><ellipse cx="50.13" cy="14.36" rx="2.01" ry="2.41" transform="rotate(11.2 50.13 14.36)"/><ellipse cx="50.13" cy="50.36" rx="2.01" ry="2.41" transform="rotate(11.2 50.13 50.36)"/><ellipse cx="-33.58" cy="-28.48" rx="2.12" ry="1.94" transform="rotate(9.46 -33.58 -28.48)"/><ellipse cx="-33.58" cy="7.52" rx="2.12" ry="1.94" transform="rotate(9.46 -33.58 7.52)"/><ellipse cx="-33.58" cy="43.52" rx="2.12" ry="1.94" transform="rotate(9.46 -33.58 43.52)"/><ellipse cx="2.42" cy="-28.48" rx="2.12" ry="1.94" transform="rotate(9.46 2.42 -28.48)"/><ellipse cx="2.42" cy="7.52" rx="2.12" ry="1.94" transform="rotate(9.46 2.42 7.52)"/><ellipse cx="2.42" cy="43.52" rx="2.12" ry="1.94" transform="rotate(9.46 2.42 43.52)"/><ellipse cx="38.42" cy="-28.48" rx="2.12" ry="1.94" transform="rotate(9.46 38.42 -28.48)"/><ellipse cx="38.42" cy="7.52" rx="2.12" ry="1.94" transform="rotate(9.46 38.42 7.52)"/><ellipse cx="38.42" cy="43.52" rx="2.12" ry="1.94" transform="rotate(9.46 38.42 43.52)"/><ellipse cx="-35.99" cy="-30.55" rx="2" ry="1.98" transform="rotate(4.59 -35.99 -30.55)"/><ellipse cx="-35.99" cy="5.45" rx="2" ry="1.98" transform="rotate(4.59 -35.99 5.45)"/><ellipse cx="-35.99" cy="41.45" rx="2" ry="1.98" transform="rotate(4.59 -35.99 41.45)"/><ellipse cx="0.01" cy="-30.55" rx="2" ry="1.98" transform="rotate(4.59 0.01 -30.55)"/><ellipse cx="0.01" cy="5.45" rx="2" ry="1.98" transform="rotate(4.59 0.01 5.45)"/><ellipse cx="0.01" cy="41.45" rx="2" ry="1.98" transform="rotate(4.59 0.01 41.45)"/><ellipse cx="36.01" cy="-30.55" rx="2" ry="1.98" transform="rotate(4.59 36.01 -30.55)"/><ellipse cx="36.01" cy="5.45" rx="2" ry="1.98" transform="rotate(4.59 36.01 5.45)"/><ellipse cx="36.01" cy="41.45" rx="2" ry="1.98" transform="rotate(4.59 36.01 41.45)"/><ellipse cx="-4.52" cy="-13.89" rx="2.1" ry="1.8" transform="rotate(62.53 -4.52 -13.89)"/><ellipse cx="-4.52" cy="22.11" rx="2.1" ry="1.8" transform="rotate(62.53 -4.52 22.11)"/><ellipse cx="-4.52" cy="58.11" rx="2.1" ry="1.8" transform="rotate(62.53 -4.52 58.11)"/><ellipse cx="31.48" cy="-13.89" rx="2.1" ry="1.8" transform="rotate(62.53 31.48 -13.89)"/><ellipse cx="31.48" cy="22.11" rx="2.1" ry="1.8" transform="rotate(62.53 31.48 22.11)"/><ellipse cx="31.48" cy="58.11" rx="2.1" ry="1.8" transform="rotate(62.53 31.48 58.11)"/><ellipse cx="67.48" cy="-13.89" rx="2.1" ry="1.8" transform="rotate(62.53 67.48 -13.89)"/><ellipse cx="67.48" cy="22.11" rx="2.1" ry="1.8" transform="rotate(62.53 67.48 22.11)"/><ellipse cx="67.48" cy="58.11" rx="2.1" ry="1.8" transform="rotate(62.53 67.48 58.11)"/><ellipse cx="-22.89" cy="-31.58" rx="3.5" ry="2.99" transform="rotate(83.88 -22.89 -31.58)"/><ellipse cx="-22.89" cy="4.42" rx="3.5" ry="2.99" transform="rotate(83.88 -22.89 4.42)"/><ellipse cx="-22.89" cy="40.42" rx="3.5" ry="2.99" transform="rotate(83.88 -22.89 40.42)"/><ellipse cx="13.11" cy="-31.58" rx="3.5" ry="2.99" transform="rotate(83.88 13.11 -31.58)"/><ellipse cx="13.11" cy="4.42" rx="3.5" ry="2.99" transform="rotate(83.88 13.11 4.42)"/><ellipse cx="13.11" cy="40.42" rx="3.5" ry="2.99" transform="rotate(83.88 13.11 40.42)"/><ellipse cx="49.11" cy="-31.58" rx="3.5" ry="2.99" transform="rotate(83.88 49.11 -31.58)"/><ellipse cx="49.11" cy="4.42" rx="3.5" ry="2.99" transform="rotate(83.88 49.11 4.42)"/><ellipse cx="49.11" cy="40.42" rx="3.5" ry="2.99" transform="rotate(83.88 49.11 40.42)"/><ellipse cx="-18.58" cy="-32.91" rx="2" ry="1.95" transform="rotate(47.66 -18.58 -32.91)"/><ellipse cx="-18.58" cy="3.09" rx="2" ry="1.95" transform="rotate(47.66 -18.58 3.09)"/><ellipse cx="-18.58" cy="39.09" rx="2" ry="1.95" transform="rotate(47.66 -18.58 39.09)"/><ellipse cx="17.42" cy="-32.91" rx="2" ry="1.95" transform="rotate(47.66 17.42 -32.91)"/><ellipse cx="17.42" cy="3.09" rx="2" ry="1.95" transform="rotate(47.66 17.42 3.09)"/><ellipse cx="17.42" cy="39.09" rx="2" ry="1.95" transform="rotate(47.66 17.42 39.09)"/><ellipse cx="53.42" cy="-32.91" rx="2" ry="1.95" transform="rotate(47.66 53.42 -32.91)"/><ellipse cx="53.42" cy="3.09" rx="2" ry="1.95" transform="rotate(47.66 53.42 3.09)"/><ellipse cx="53.42" cy="39.09" rx="2" ry="1.95" transform="rotate(47.66 53.42 39.09)"/><ellipse cx="-6.16" cy="-30.19" rx="1.85" ry="2.92" transform="rotate(95.09 -6.16 -30.19)"/><ellipse cx="-6.16" cy="5.81" rx="1.85" ry="2.92" transform="rotate(95.09 -6.16 5.81)"/><ellipse cx="-6.16" cy="41.81" rx="1.85" ry="2.92" transform="rotate(95.09 -6.16 41.81)"/><ellipse cx="29.84" cy="-30.19" rx="1.85" ry="2.92" transform="rotate(95.09 29.84 -30.19)"/><ellipse cx="29.84" cy="5.81" rx="1.85" ry="2.92" transform="rotate(95.09 29.84 5.81)"/><ellipse cx="29.84" cy="41.81" rx="1.85" ry="2.92" transform="rotate(95.09 29.84 41.81)"/><ellipse cx="65.84" cy="-30.19" rx="1.85" ry="2.92" transform="rotate(95.09 65.84 -30.19)"/><ellipse cx="65.84" cy="5.81" rx="1.85" ry="2.92" transform="rotate(95.09 65.84 5.81)"/><ellipse cx="65.84" cy="41.81" rx="1.85" ry="2.92" transform="rotate(95.09 65.84 41.81)"/><ellipse cx="-30.72" cy="-16.45" rx="1.85" ry="2.24" transform="rotate(176.13 -30.72 -16.45)"/><ellipse cx="-30.72" cy="19.55" rx="1.85" ry="2.24" transform="rotate(176.13 -30.72 19.55)"/><ellipse cx="-30.72" cy="55.55" rx="1.85" ry="2.24" transform="rotate(176.13 -30.72 55.55)"/><ellipse cx="5.28" cy="-16.45" rx="1.85" ry="2.24" transform="rotate(176.13 5.28 -16.45)"/><ellipse cx="5.28" cy="19.55" rx="1.85" ry="2.24" transform="rotate(176.13 5.28 19.55)"/><ellipse cx="5.28" cy="55.55" rx="1.85" ry="2.24" transform="rotate(176.13 5.28 55.55)"/><ellipse cx="41.28" cy="-16.45" rx="1.85" ry="2.24" transform="rotate(176.13 41.28 -16.45)"/><ellipse cx="41.28" cy="19.55" rx="1.85" ry="2.24" transform="rotate(176.13 41.28 19.55)"/><ellipse cx="41.28" cy="55.55" rx="1.85" ry="2.24" transform="rotate(176.13 41.28 55.55)"/><ellipse cx="-4.92" cy="-10.94" rx="2.32" ry="1.99" transform="rotate(30.07 -4.92 -10.94)"/><ellipse cx="-4.92" cy="25.06" rx="2.32" ry="1.99" transform="rotate(30.07 -4.92 25.06)"/><ellipse cx="-4.92" cy="61.06" rx="2.32" ry="1.99" transform="rotate(30.07 -4.92 61.06)"/><ellipse cx="31.08" cy="-10.94" rx="2.32" ry="1.99" transform="rotate(30.07 31.08 -10.94)"/><ellipse cx="31.08" cy="25.06" rx="2.32" ry="1.99" transform="rotate(30.07 31.08 25.06)"/><ellipse cx="31.08" cy="61.06" rx="2.32" ry="1.99" transform="rotate(30.07 31.08 61.06)"/><ellipse cx="67.08" cy="-10.94" rx="2.32" ry="1.99" transform="rotate(30.07 67.08 -10.94)"/><ellipse cx="67.08" cy="25.06" rx="2.32" ry="1.99" transform="rotate(30.07 67.08 25.06)"/><ellipse cx="67.08" cy="61.06" rx="2.32" ry="1.99" transform="rotate(30.07 67.08 61.06)"/><ellipse cx="-8.21" cy="-16.83" rx="3.36" ry="1.93" transform="rotate(40.15 -8.21 -16.83)"/><ellipse cx="-8.21" cy="19.17" rx="3.36" ry="1.93" transform="rotate(40.15 -8.21 19.17)"/><ellipse cx="-8.21" cy="55.17" rx="3.36" ry="1.93" transform="rotate(40.15 -8.21 55.17)"/><ellipse cx="27.79" cy="-16.83" rx="3.36" ry="1.93" transform="rotate(40.15 27.79 -16.83)"/><ellipse cx="27.79" cy="19.17" rx="3.36" ry="1.93" transform="rotate(40.15 27.79 19.17)"/><ellipse cx="27.79" cy="55.17" rx="3.36" ry="1.93" transform="rotate(40.15 27.79 55.17)"/><ellipse cx="63.79" cy="-16.83" rx="3.36" ry="1.93" transform="rotate(40.15 63.79 -16.83)"/><ellipse cx="63.79" cy="19.17" rx="3.36" ry="1.93" transform="rotate(40.15 63.79 19.17)"/><ellipse cx="63.79" cy="55.17" rx="3.36" ry="1.93" transform="rotate(40.15 63.79 55.17)"/><ellipse cx="-6.79" cy="-0.54" rx="3.51" ry="2.69" transform="rotate(147.3 -6.79 -0.54)"/><ellipse cx="-6.79" cy="35.46" rx="3.51" ry="2.69" transform="rotate(147.3 -6.79 35.46)"/><ellipse cx="-6.79" cy="71.46" rx="3.51" ry="2.69" transform="rotate(147.3 -6.79 71.46)"/><ellipse cx="29.21" cy="-0.54" rx="3.51" ry="2.69" transform="rotate(147.3 29.21 -0.54)"/><ellipse cx="29.21" cy="35.46" rx="3.51" ry="2.69" transform="rotate(147.3 29.21 35.46)"/><ellipse cx="29.21" cy="71.46" rx="3.51" ry="2.69" transform="rotate(147.3 29.21 71.46)"/><ellipse cx="65.21" cy="-0.54" rx="3.51" ry="2.69" transform="rotate(147.3 65.21 -0.54)"/><ellipse cx="65.21" cy="35.46" rx="3.51" ry="2.69" transform="rotate(147.3 65.21 35.46)"/><ellipse cx="65.21" cy="71.46" rx="3.51" ry="2.69" transform="rotate(147.3 65.21 71.46)"/><ellipse cx="-9.36" cy="-27.84" rx="2.84" ry="1.97" transform="rotate(5.22 -9.36 -27.84)"/><ellipse cx="-9.36" cy="8.16" rx="2.84" ry="1.97" transform="rotate(5.22 -9.36 8.16)"/><ellipse cx="-9.36" cy="44.16" rx="2.84" ry="1.97" transform="rotate(5.22 -9.36 44.16)"/><ellipse cx="26.64" cy="-27.84" rx="2.84" ry="1.97" transform="rotate(5.22 26.64 -27.84)"/><ellipse cx="26.64" cy="8.16" rx="2.84" ry="1.97" transform="rotate(5.22 26.64 8.16)"/><ellipse cx="26.64" cy="44.16" rx="2.84" ry="1.97" transform="rotate(5.22 26.64 44.16)"/><ellipse cx="62.64" cy="-27.84" rx="2.84" ry="1.97" transform="rotate(5.22 62.64 -27.84)"/><ellipse cx="62.64" cy="8.16" rx="2.84" ry="1.97" transform="rotate(5.22 62.64 8.16)"/><ellipse cx="62.64" cy="44.16" rx="2.84" ry="1.97" transform="rotate(5.22 62.64 44.16)"/><ellipse cx="-34.99" cy="-25.94" rx="2.32" ry="2.51" transform="rotate(172.17 -34.99 -25.94)"/><ellipse cx="-34.99" cy="10.06" rx="2.32" ry="2.51" transform="rotate(172.17 -34.99 10.06)"/><ellipse cx="-34.99" cy="46.06" rx="2.32" ry="2.51" transform="rotate(172.17 -34.99 46.06)"/><ellipse cx="1.01" cy="-25.94" rx="2.32" ry="2.51" transform="rotate(172.17 1.01 -25.94)"/><ellipse cx="1.01" cy="10.06" rx="2.32" ry="2.51" transform="rotate(172.17 1.01 10.06)"/><ellipse cx="1.01" cy="46.06" rx="2.32" ry="2.51" transform="rotate(172.17 1.01 46.06)"/><ellipse cx="37.01" cy="-25.94" rx="2.32" ry="2.51" transform="rotate(172.17 37.01 -25.94)"/><ellipse cx="37.01" cy="10.06" rx="2.32" ry="2.51" transform="rotate(172.17 37.01 10.06)"/><ellipse cx="37.01" cy="46.06" rx="2.32" ry="2.51" transform="rotate(172.17 37.01 46.06)"/><ellipse cx="-19.9" cy="-2.27" rx="3.78" ry="2.93" transform="rotate(65.63 -19.9 -2.27)"/><ellipse cx="-19.9" cy="33.73" rx="3.78" ry="2.93" transform="rotate(65.63 -19.9 33.73)"/><ellipse cx="-19.9" cy="69.73" rx="3.78" ry="2.93" transform="rotate(65.63 -19.9 69.73)"/><ellipse cx="16.1" cy="-2.27" rx="3.78" ry="2.93" transform="rotate(65.63 16.1 -2.27)"/><ellipse cx="16.1" cy="33.73" rx="3.78" ry="2.93" transform="rotate(65.63 16.1 33.73)"/><ellipse cx="16.1" cy="69.73" rx="3.78" ry="2.93" transform="rotate(65.63 16.1 69.73)"/><ellipse cx="52.1" cy="-2.27" rx="3.78" ry="2.93" transform="rotate(65.63 52.1 -2.27)"/><ellipse cx="52.1" cy="33.73" rx="3.78" ry="2.93" transform="rotate(65.63 52.1 33.73)"/><ellipse cx="52.1" cy="69.73" rx="3.78" ry="2.93" transform="rotate(65.63 52.1 69.73)"/><ellipse cx="-28.06" cy="-27.83" rx="2.19" ry="1.73" transform="rotate(112.33 -28.06 -27.83)"/><ellipse cx="-28.06" cy="8.17" rx="2.19" ry="1.73" transform="rotate(112.33 -28.06 8.17)"/><ellipse cx="-28.06" cy="44.17" rx="2.19" ry="1.73" transform="rotate(112.33 -28.06 44.17)"/><ellipse cx="7.94" cy="-27.83" rx="2.19" ry="1.73" transform="rotate(112.33 7.94 -27.83)"/><ellipse cx="7.94" cy="8.17" rx="2.19" ry="1.73" transform="rotate(112.33 7.94 8.17)"/><ellipse cx="7.94" cy="44.17" rx="2.19" ry="1.73" transform="rotate(112.33 7.94 44.17)"/><ellipse cx="43.94" cy="-27.83" rx="2.19" ry="1.73" transform="rotate(112.33 43.94 -27.83)"/><ellipse cx="43.94" cy="8.17" rx="2.19" ry="1.73" transform="rotate(112.33 43.94 8.17)"/><ellipse cx="43.94" cy="44.17" rx="2.19" ry="1.73" transform="rotate(112.33 43.94 44.17)"/><ellipse cx="-3.59" cy="-5.74" rx="2.76" ry="2.44" transform="rotate(143.94 -3.59 -5.74)"/><ellipse cx="-3.59" cy="30.26" rx="2.76" ry="2.44" transform="rotate(143.94 -3.59 30.26)"/><ellipse cx="-3.59" cy="66.26" rx="2.76" ry="2.44" transform="rotate(143.94 -3.59 66.26)"/><ellipse cx="32.41" cy="-5.74" rx="2.76" ry="2.44" transform="rotate(143.94 32.41 -5.74)"/><ellipse cx="32.41" cy="30.26" rx="2.76" ry="2.44" transform="rotate(143.94 32.41 30.26)"/><ellipse cx="32.41" cy="66.26" rx="2.76" ry="2.44" transform="rotate(143.94 32.41 66.26)"/><ellipse cx="68.41" cy="-5.74" rx="2.76" ry="2.44" transform="rotate(143.94 68.41 -5.74)"/><ellipse cx="68.41" cy="30.26" rx="2.76" ry="2.44" transform="rotate(143.94 68.41 30.26)"/><ellipse cx="68.41" cy="66.26" rx="2.76" ry="2.44" transform="rotate(143.94 68.41 66.26)"/></g></pattern></defs>
<g clip-path="url(#c1)">
<rect x="46.3" y="252.4" width="153.3" height="54.8" fill="#e5ded8"/>
<rect x="46.3" y="252.4" width="153.3" height="54.8" fill="url(#cellpat)"/>
<path d="M63,249 C64,251.17 66.07,257.17 69,262 C71.93,266.83 76.77,273.77 80.6,278 C84.43,282.23 88.53,284.9 92,287.4 C95.47,289.9 97.57,291.48 101.4,293 C105.23,294.52 110.42,295.87 115,296.5 C119.58,297.13 123.62,297.55 128.9,296.8 C134.18,296.05 140.78,294.8 146.7,292 C152.62,289.2 159.47,284.45 164.4,280 C169.33,275.55 173.33,269.47 176.3,265.3 C179.27,261.13 180.92,257.72 182.2,255 C183.48,252.28 183.7,250 184,249 L184,247.4 L63,247.4 Z" fill="#dbdae1"/>
<ellipse cx="121" cy="240" rx="54" ry="50" fill="#dcdbe2" stroke="none" stroke-width="0"/>
<ellipse cx="123" cy="243" rx="46" ry="40" fill="#dfdee4" stroke="none" stroke-width="0"/>
<ellipse cx="122" cy="247" rx="31" ry="27" fill="#e8e6ea" stroke="#f0eef2" stroke-width="1.2"/>
<path d="M63,249 C64,251.17 66.07,257.17 69,262 C71.93,266.83 76.77,273.77 80.6,278 C84.43,282.23 88.53,284.9 92,287.4 C95.47,289.9 97.57,291.48 101.4,293 C105.23,294.52 110.42,295.87 115,296.5 C119.58,297.13 123.62,297.55 128.9,296.8 C134.18,296.05 140.78,294.8 146.7,292 C152.62,289.2 159.47,284.45 164.4,280 C169.33,275.55 173.33,269.47 176.3,265.3 C179.27,261.13 180.92,257.72 182.2,255 C183.48,252.28 183.7,250 184,249" fill="none" stroke="#7d89c0" stroke-width="3.5" opacity="0.35" transform="translate(0,-2.5)"/>
<path d="M63,249 C64,251.17 66.07,257.17 69,262 C71.93,266.83 76.77,273.77 80.6,278 C84.43,282.23 88.53,284.9 92,287.4 C95.47,289.9 97.57,291.48 101.4,293 C105.23,294.52 110.42,295.87 115,296.5 C119.58,297.13 123.62,297.55 128.9,296.8 C134.18,296.05 140.78,294.8 146.7,292 C152.62,289.2 159.47,284.45 164.4,280 C169.33,275.55 173.33,269.47 176.3,265.3 C179.27,261.13 180.92,257.72 182.2,255 C183.48,252.28 183.7,250 184,249" fill="none" stroke="#3a4890" stroke-width="1.08" opacity="0.425"/>
<ellipse cx="64.58" cy="252.05" rx="2.15" ry="1.28" transform="rotate(67.99 64.58 252.05)" fill="#3a4890" opacity="0.9"/>
<ellipse cx="66.35" cy="255.32" rx="2.03" ry="0.94" transform="rotate(66.43 66.35 255.32)" fill="#3a4890" opacity="0.77"/>
<ellipse cx="67.57" cy="258.89" rx="1.7" ry="1.1" transform="rotate(63.4 67.57 258.89)" fill="#3a4890" opacity="0.93"/>
<ellipse cx="69.53" cy="261.69" rx="1.82" ry="1.3" transform="rotate(59.08 69.53 261.69)" fill="#3a4890" opacity="0.91"/>
<ellipse cx="70.9" cy="265.16" rx="1.62" ry="1.18" transform="rotate(56.98 70.9 265.16)" fill="#3a4890" opacity="0.96"/>
<ellipse cx="72.79" cy="268.18" rx="1.93" ry="1.25" transform="rotate(55.53 72.79 268.18)" fill="#3a4890" opacity="0.74"/>
<ellipse cx="77.67" cy="273.69" rx="1.88" ry="1.3" transform="rotate(52.28 77.67 273.69)" fill="#3a4890" opacity="0.91"/>
<ellipse cx="79.56" cy="276.54" rx="2.24" ry="0.91" transform="rotate(49.92 79.56 276.54)" fill="#3a4890" opacity="0.66"/>
<ellipse cx="81.88" cy="279.1" rx="1.78" ry="1.28" transform="rotate(45.71 81.88 279.1)" fill="#3a4890" opacity="0.9"/>
<ellipse cx="83.97" cy="282.16" rx="1.69" ry="1.12" transform="rotate(40.92 83.97 282.16)" fill="#3a4890" opacity="0.82"/>
<ellipse cx="87.57" cy="283.67" rx="1.71" ry="1.21" transform="rotate(37.13 87.57 283.67)" fill="#3a4890" opacity="0.84"/>
<ellipse cx="90" cy="286.25" rx="1.94" ry="0.95" transform="rotate(35.42 90 286.25)" fill="#3a4890" opacity="0.95"/>
<ellipse cx="92.94" cy="288.21" rx="1.77" ry="1.26" transform="rotate(35.81 92.94 288.21)" fill="#3a4890" opacity="0.73"/>
<ellipse cx="99.18" cy="291.67" rx="1.78" ry="1.09" transform="rotate(26.62 99.18 291.67)" fill="#3a4890" opacity="0.85"/>
<ellipse cx="102.05" cy="293.98" rx="1.75" ry="0.93" transform="rotate(20.5 102.05 293.98)" fill="#3a4890" opacity="0.95"/>
<ellipse cx="109.26" cy="295.75" rx="2.05" ry="1.06" transform="rotate(13.4 109.26 295.75)" fill="#3a4890" opacity="0.96"/>
<ellipse cx="112.97" cy="295.83" rx="1.81" ry="0.98" transform="rotate(10.21 112.97 295.83)" fill="#3a4890" opacity="0.69"/>
<ellipse cx="119.99" cy="297.5" rx="2.17" ry="1.11" transform="rotate(4.54 119.99 297.5)" fill="#3a4890" opacity="0.95"/>
<ellipse cx="123.73" cy="296.63" rx="1.54" ry="1.27" transform="rotate(-0.36 123.73 296.63)" fill="#3a4890" opacity="0.9"/>
<ellipse cx="127.29" cy="296.4" rx="2.03" ry="1.06" transform="rotate(-5.68 127.29 296.4)" fill="#3a4890" opacity="0.67"/>
<ellipse cx="130.89" cy="296.17" rx="1.69" ry="1.11" transform="rotate(-8.96 130.89 296.17)" fill="#3a4890" opacity="0.69"/>
<ellipse cx="134.37" cy="295.73" rx="2.08" ry="1.09" transform="rotate(-11.15 134.37 295.73)" fill="#3a4890" opacity="0.8"/>
<ellipse cx="138.18" cy="295.69" rx="1.91" ry="1.08" transform="rotate(-14.14 138.18 295.69)" fill="#3a4890" opacity="0.89"/>
<ellipse cx="141.65" cy="293.8" rx="1.75" ry="0.98" transform="rotate(-17.99 141.65 293.8)" fill="#3a4890" opacity="0.65"/>
<ellipse cx="145.11" cy="293.3" rx="1.95" ry="1.07" transform="rotate(-22.18 145.11 293.3)" fill="#3a4890" opacity="0.75"/>
<ellipse cx="148.12" cy="291.48" rx="2.24" ry="1.12" transform="rotate(-26.75 148.12 291.48)" fill="#3a4890" opacity="0.76"/>
<ellipse cx="151.17" cy="289.39" rx="2.1" ry="1.02" transform="rotate(-30.14 151.17 289.39)" fill="#3a4890" opacity="0.84"/>
<ellipse cx="154.59" cy="287.63" rx="1.92" ry="0.98" transform="rotate(-32.99 154.59 287.63)" fill="#3a4890" opacity="0.88"/>
<ellipse cx="157.75" cy="285.34" rx="1.86" ry="1.08" transform="rotate(-35.59 157.75 285.34)" fill="#3a4890" opacity="0.82"/>
<ellipse cx="161.23" cy="283.56" rx="1.51" ry="1.01" transform="rotate(-38.16 161.23 283.56)" fill="#3a4890" opacity="0.92"/>
<ellipse cx="163.43" cy="280.42" rx="2.1" ry="0.98" transform="rotate(-40.95 163.43 280.42)" fill="#3a4890" opacity="0.81"/>
<ellipse cx="166.61" cy="278.66" rx="1.52" ry="1.09" transform="rotate(-45.3 166.61 278.66)" fill="#3a4890" opacity="0.85"/>
<ellipse cx="168.94" cy="275.96" rx="1.58" ry="1.26" transform="rotate(-49.26 168.94 275.96)" fill="#3a4890" opacity="0.65"/>
<ellipse cx="170.95" cy="273.06" rx="2.11" ry="0.99" transform="rotate(-52.1 170.95 273.06)" fill="#3a4890" opacity="0.93"/>
<ellipse cx="173.13" cy="269.88" rx="1.84" ry="0.92" transform="rotate(-54.15 173.13 269.88)" fill="#3a4890" opacity="0.7"/>
<ellipse cx="175.19" cy="266.98" rx="1.72" ry="1.04" transform="rotate(-54.92 175.19 266.98)" fill="#3a4890" opacity="0.92"/>
<ellipse cx="177.44" cy="264.27" rx="1.82" ry="0.9" transform="rotate(-55.79 177.44 264.27)" fill="#3a4890" opacity="0.75"/>
<ellipse cx="179.25" cy="261.36" rx="2.16" ry="0.91" transform="rotate(-59.19 179.25 261.36)" fill="#3a4890" opacity="0.73"/>
<ellipse cx="180.36" cy="257.95" rx="1.77" ry="1.12" transform="rotate(-62.61 180.36 257.95)" fill="#3a4890" opacity="0.81"/>
<ellipse cx="182.43" cy="255.11" rx="1.6" ry="1" transform="rotate(-64.7 182.43 255.11)" fill="#3a4890" opacity="0.74"/>
<ellipse cx="184.05" cy="251.85" rx="1.79" ry="0.99" transform="rotate(-75.31 184.05 251.85)" fill="#3a4890" opacity="0.91"/>
<rect x="183" y="252.4" width="17" height="54.8" fill="url(#rstrip)"/>
<ellipse cx="48" cy="254" rx="4" ry="4" fill="#a89286" opacity="0.75"/>
<path d="M56,250 C56.67,252 58,258 60,262 C62,266 65,270.33 68,274 C71,277.67 74.67,281.17 78,284 C81.33,286.83 86.33,289.83 88,291" fill="none" stroke="#8a96c6" stroke-width="3" opacity="0.45"/>
</g>
<g clip-path="url(#c2)">
<rect x="46.3" y="311" width="153.3" height="54.9" fill="#e7e4e3"/>
<rect x="46.3" y="311" width="153.3" height="54.9" fill="url(#cellpat)"/>
<path d="M56,309 C56.3,309.67 56.02,310.37 57.8,313 C59.58,315.63 63.23,320.85 66.7,324.8 C70.17,328.75 73.67,333 78.6,336.7 C83.53,340.4 89.4,344.53 96.3,347 C103.2,349.47 112.1,351 120,351.5 C127.9,352 136.3,351.48 143.7,350 C151.1,348.52 158.97,345.07 164.4,342.6 C169.83,340.13 171.87,338.67 176.3,335.2 C180.73,331.73 187.72,325.67 191,321.8 C194.28,317.93 195.17,313.63 196,312 L196,306 L56,306 Z" fill="#dbdae1"/>
<ellipse cx="124" cy="296" rx="58" ry="47" fill="#dfdee3" stroke="none" stroke-width="0"/>
<ellipse cx="126" cy="298" rx="50" ry="38" fill="#e2e1e5" stroke="#d9d7dd" stroke-width="0.5"/>
<ellipse cx="128" cy="300" rx="40" ry="22" fill="#e8e6ea" stroke="#f0eef2" stroke-width="1.2"/>
<path d="M56,309 C56.3,309.67 56.02,310.37 57.8,313 C59.58,315.63 63.23,320.85 66.7,324.8 C70.17,328.75 73.67,333 78.6,336.7 C83.53,340.4 89.4,344.53 96.3,347 C103.2,349.47 112.1,351 120,351.5 C127.9,352 136.3,351.48 143.7,350 C151.1,348.52 158.97,345.07 164.4,342.6 C169.83,340.13 171.87,338.67 176.3,335.2 C180.73,331.73 187.72,325.67 191,321.8 C194.28,317.93 195.17,313.63 196,312" fill="none" stroke="#a0a8d0" stroke-width="3.5" opacity="0.25" transform="translate(0,-2.5)"/>
<path d="M56,309 C56.3,309.67 56.02,310.37 57.8,313 C59.58,315.63 63.23,320.85 66.7,324.8 C70.17,328.75 73.67,333 78.6,336.7 C83.53,340.4 89.4,344.53 96.3,347 C103.2,349.47 112.1,351 120,351.5 C127.9,352 136.3,351.48 143.7,350 C151.1,348.52 158.97,345.07 164.4,342.6 C169.83,340.13 171.87,338.67 176.3,335.2 C180.73,331.73 187.72,325.67 191,321.8 C194.28,317.93 195.17,313.63 196,312" fill="none" stroke="#5863a2" stroke-width="0.77" opacity="0.3"/>
<ellipse cx="56.85" cy="312.56" rx="1.39" ry="0.88" transform="rotate(58.69 56.85 312.56)" fill="#5863a2" opacity="0.66"/>
<ellipse cx="59.49" cy="314.97" rx="1.6" ry="0.76" transform="rotate(55.07 59.49 314.97)" fill="#5863a2" opacity="0.47"/>
<ellipse cx="61.26" cy="318.18" rx="1.15" ry="0.72" transform="rotate(53.82 61.26 318.18)" fill="#5863a2" opacity="0.64"/>
<ellipse cx="63.86" cy="320.8" rx="1.11" ry="0.65" transform="rotate(52.24 63.86 320.8)" fill="#5863a2" opacity="0.58"/>
<ellipse cx="65.82" cy="323.97" rx="1.52" ry="0.9" transform="rotate(49.94 65.82 323.97)" fill="#5863a2" opacity="0.6"/>
<ellipse cx="68.23" cy="326.63" rx="1.24" ry="0.7" transform="rotate(48.91 68.23 326.63)" fill="#5863a2" opacity="0.6"/>
<ellipse cx="70.95" cy="329.09" rx="1.28" ry="0.76" transform="rotate(47.82 70.95 329.09)" fill="#5863a2" opacity="0.65"/>
<ellipse cx="73.5" cy="331.83" rx="1.49" ry="0.87" transform="rotate(45.14 73.5 331.83)" fill="#5863a2" opacity="0.48"/>
<ellipse cx="75.89" cy="334.32" rx="1.58" ry="0.86" transform="rotate(41.6 75.89 334.32)" fill="#5863a2" opacity="0.64"/>
<ellipse cx="78.4" cy="336.97" rx="1.55" ry="0.66" transform="rotate(37.17 78.4 336.97)" fill="#5863a2" opacity="0.69"/>
<ellipse cx="81.86" cy="338.7" rx="1.32" ry="0.67" transform="rotate(35.63 81.86 338.7)" fill="#5863a2" opacity="0.51"/>
<ellipse cx="84.86" cy="340.47" rx="1.1" ry="0.72" transform="rotate(33.61 84.86 340.47)" fill="#5863a2" opacity="0.58"/>
<ellipse cx="87.74" cy="342.62" rx="1.19" ry="0.9" transform="rotate(30.82 87.74 342.62)" fill="#5863a2" opacity="0.58"/>
<ellipse cx="90.77" cy="344.77" rx="1.49" ry="0.91" transform="rotate(27.25 90.77 344.77)" fill="#5863a2" opacity="0.66"/>
<ellipse cx="97.77" cy="347.9" rx="1.25" ry="0.73" transform="rotate(18.22 97.77 347.9)" fill="#5863a2" opacity="0.63"/>
<ellipse cx="101.07" cy="349.11" rx="1.27" ry="0.72" transform="rotate(15.18 101.07 349.11)" fill="#5863a2" opacity="0.6"/>
<ellipse cx="104.82" cy="349.06" rx="1.36" ry="0.65" transform="rotate(12.59 104.82 349.06)" fill="#5863a2" opacity="0.57"/>
<ellipse cx="108.32" cy="350.46" rx="1.55" ry="0.79" transform="rotate(10.3 108.32 350.46)" fill="#5863a2" opacity="0.51"/>
<ellipse cx="112" cy="351.29" rx="1.63" ry="0.68" transform="rotate(8.2 112 351.29)" fill="#5863a2" opacity="0.69"/>
<ellipse cx="115.83" cy="350.65" rx="1.52" ry="0.92" transform="rotate(6.18 115.83 350.65)" fill="#5863a2" opacity="0.56"/>
<ellipse cx="119.38" cy="351.81" rx="1.51" ry="0.71" transform="rotate(4.14 119.38 351.81)" fill="#5863a2" opacity="0.62"/>
<ellipse cx="122.98" cy="351.79" rx="1.48" ry="0.88" transform="rotate(1.95 122.98 351.79)" fill="#5863a2" opacity="0.58"/>
<ellipse cx="126.6" cy="351.67" rx="1.29" ry="0.77" transform="rotate(-0.22 126.6 351.67)" fill="#5863a2" opacity="0.54"/>
<ellipse cx="133.89" cy="352.04" rx="1.6" ry="0.72" transform="rotate(-4.49 133.89 352.04)" fill="#5863a2" opacity="0.65"/>
<ellipse cx="137.47" cy="351.64" rx="1.19" ry="0.89" transform="rotate(-6.71 137.47 351.64)" fill="#5863a2" opacity="0.52"/>
<ellipse cx="140.8" cy="349.99" rx="1.49" ry="0.81" transform="rotate(-9.04 140.8 349.99)" fill="#5863a2" opacity="0.51"/>
<ellipse cx="144.19" cy="349.58" rx="1.42" ry="0.83" transform="rotate(-11.68 144.19 349.58)" fill="#5863a2" opacity="0.66"/>
<ellipse cx="147.54" cy="348.79" rx="1.34" ry="0.88" transform="rotate(-15.3 147.54 348.79)" fill="#5863a2" opacity="0.58"/>
<ellipse cx="150.89" cy="347.82" rx="1.61" ry="0.9" transform="rotate(-18.12 150.89 347.82)" fill="#5863a2" opacity="0.64"/>
<ellipse cx="154.34" cy="347.11" rx="1.56" ry="0.89" transform="rotate(-20.33 154.34 347.11)" fill="#5863a2" opacity="0.46"/>
<ellipse cx="157.68" cy="344.82" rx="1.16" ry="0.78" transform="rotate(-22.27 157.68 344.82)" fill="#5863a2" opacity="0.47"/>
<ellipse cx="165.06" cy="342.98" rx="1.4" ry="0.88" transform="rotate(-24.54 165.06 342.98)" fill="#5863a2" opacity="0.59"/>
<ellipse cx="167.71" cy="340.48" rx="1.31" ry="0.81" transform="rotate(-27.53 167.71 340.48)" fill="#5863a2" opacity="0.56"/>
<ellipse cx="174.09" cy="337.34" rx="1.61" ry="0.92" transform="rotate(-36.83 174.09 337.34)" fill="#5863a2" opacity="0.46"/>
<ellipse cx="176.56" cy="334.83" rx="1.36" ry="0.83" transform="rotate(-38.14 176.56 334.83)" fill="#5863a2" opacity="0.64"/>
<ellipse cx="179.33" cy="332.18" rx="1.12" ry="0.77" transform="rotate(-39.76 179.33 332.18)" fill="#5863a2" opacity="0.5"/>
<ellipse cx="185.47" cy="327.75" rx="1.45" ry="0.7" transform="rotate(-42.46 185.47 327.75)" fill="#5863a2" opacity="0.46"/>
<ellipse cx="187.81" cy="324.91" rx="1.2" ry="0.78" transform="rotate(-44.37 187.81 324.91)" fill="#5863a2" opacity="0.66"/>
<ellipse cx="190.57" cy="322.47" rx="1.16" ry="0.88" transform="rotate(-47.93 190.57 322.47)" fill="#5863a2" opacity="0.51"/>
<ellipse cx="193.05" cy="319.67" rx="1.57" ry="0.85" transform="rotate(-57.83 193.05 319.67)" fill="#5863a2" opacity="0.53"/>
<ellipse cx="193.96" cy="316.18" rx="1.09" ry="0.89" transform="rotate(-66.51 193.96 316.18)" fill="#5863a2" opacity="0.54"/>
<ellipse cx="195.63" cy="313.12" rx="1.13" ry="0.9" transform="rotate(-69.68 195.63 313.12)" fill="#5863a2" opacity="0.49"/>
<rect x="183" y="311" width="17" height="54.9" fill="url(#rstrip)"/>
<path d="M52,311 C52.5,312.5 53.67,317.17 55,320 C56.33,322.83 58,325.5 60,328 C62,330.5 65.83,333.83 67,335" fill="none" stroke="#8f98c6" stroke-width="5" opacity="0.45"/>
<path d="M186,318 l3,-4 M190,322 l2,-3" stroke="#6a74b4" stroke-width="1.6" opacity="0.6"/>
</g>
<g clip-path="url(#c3)">
<rect x="46.3" y="369.8" width="153.3" height="55" fill="#e4e1e5"/>
<rect x="46.3" y="369.8" width="153.3" height="55" fill="url(#cellpat)"/>
<path d="M58.5,367 C58.63,367.33 58.42,365.7 59.3,369 C60.18,372.3 61.08,381.37 63.8,386.8 C66.52,392.23 70.67,397.4 75.6,401.6 C80.53,405.8 86,409.28 93.4,412 C100.8,414.72 110.63,417.42 120,417.9 C129.37,418.38 141.2,417.13 149.6,414.9 C158,412.67 164.47,409.18 170.4,404.5 C176.33,399.82 181.77,392.22 185.2,386.8 C188.63,381.38 189.87,375.3 191,372 C192.13,368.7 191.83,367.83 192,367 L192,364.8 L58.5,364.8 Z" fill="#dbdae1"/>
<ellipse cx="126" cy="358" rx="60" ry="52" fill="#dfdee3" stroke="#d8d5db" stroke-width="0.5"/>
<ellipse cx="127" cy="358" rx="52" ry="44" fill="#e1e0e5" stroke="#d8d5db" stroke-width="0.5"/>
<ellipse cx="128" cy="358" rx="44" ry="36" fill="#e3e2e6" stroke="#d8d5db" stroke-width="0.5"/>
<ellipse cx="128" cy="356" rx="34" ry="24" fill="#e8e6ea" stroke="#f0eef2" stroke-width="1.2"/>
<path d="M58.5,367 C58.63,367.33 58.42,365.7 59.3,369 C60.18,372.3 61.08,381.37 63.8,386.8 C66.52,392.23 70.67,397.4 75.6,401.6 C80.53,405.8 86,409.28 93.4,412 C100.8,414.72 110.63,417.42 120,417.9 C129.37,418.38 141.2,417.13 149.6,414.9 C158,412.67 164.47,409.18 170.4,404.5 C176.33,399.82 181.77,392.22 185.2,386.8 C188.63,381.38 189.87,375.3 191,372 C192.13,368.7 191.83,367.83 192,367" fill="none" stroke="#a8aed2" stroke-width="3" opacity="0.22" transform="translate(0,-2.5)"/>
<path d="M58.5,367 C58.63,367.33 58.42,365.7 59.3,369 C60.18,372.3 61.08,381.37 63.8,386.8 C66.52,392.23 70.67,397.4 75.6,401.6 C80.53,405.8 86,409.28 93.4,412 C100.8,414.72 110.63,417.42 120,417.9 C129.37,418.38 141.2,417.13 149.6,414.9 C158,412.67 164.47,409.18 170.4,404.5 C176.33,399.82 181.77,392.22 185.2,386.8 C188.63,381.38 189.87,375.3 191,372 C192.13,368.7 191.83,367.83 192,367" fill="none" stroke="#8088b8" stroke-width="0.45" opacity="0.175"/>
<ellipse cx="59.13" cy="370.25" rx="0.79" ry="0.4" transform="rotate(78.01 59.13 370.25)" fill="#8088b8" opacity="0.29"/>
<ellipse cx="59.58" cy="373.84" rx="0.93" ry="0.44" transform="rotate(79.87 59.58 373.84)" fill="#8088b8" opacity="0.36"/>
<ellipse cx="61.05" cy="377.06" rx="0.83" ry="0.47" transform="rotate(78.77 61.05 377.06)" fill="#8088b8" opacity="0.4"/>
<ellipse cx="62.31" cy="380.51" rx="0.95" ry="0.52" transform="rotate(76.03 62.31 380.51)" fill="#8088b8" opacity="0.3"/>
<ellipse cx="62.54" cy="384.19" rx="0.9" ry="0.4" transform="rotate(71.14 62.54 384.19)" fill="#8088b8" opacity="0.31"/>
<ellipse cx="64.6" cy="387.41" rx="0.93" ry="0.5" transform="rotate(62.45 64.6 387.41)" fill="#8088b8" opacity="0.37"/>
<ellipse cx="65.62" cy="391.12" rx="0.9" ry="0.45" transform="rotate(57.46 65.62 391.12)" fill="#8088b8" opacity="0.4"/>
<ellipse cx="68.18" cy="393.99" rx="0.9" ry="0.51" transform="rotate(52.79 68.18 393.99)" fill="#8088b8" opacity="0.29"/>
<ellipse cx="70.8" cy="396.8" rx="0.78" ry="0.38" transform="rotate(48.33 70.8 396.8)" fill="#8088b8" opacity="0.32"/>
<ellipse cx="73.04" cy="400.05" rx="0.95" ry="0.39" transform="rotate(43.96 73.04 400.05)" fill="#8088b8" opacity="0.34"/>
<ellipse cx="78.41" cy="404.33" rx="0.78" ry="0.39" transform="rotate(37.17 78.41 404.33)" fill="#8088b8" opacity="0.35"/>
<ellipse cx="81.06" cy="406.6" rx="0.9" ry="0.51" transform="rotate(33.72 81.06 406.6)" fill="#8088b8" opacity="0.39"/>
<ellipse cx="84.24" cy="408.25" rx="0.8" ry="0.46" transform="rotate(30.02 84.24 408.25)" fill="#8088b8" opacity="0.39"/>
<ellipse cx="87.75" cy="409.49" rx="0.9" ry="0.38" transform="rotate(26.22 87.75 409.49)" fill="#8088b8" opacity="0.27"/>
<ellipse cx="91.05" cy="411.63" rx="0.82" ry="0.47" transform="rotate(22.47 91.05 411.63)" fill="#8088b8" opacity="0.29"/>
<ellipse cx="94.3" cy="413.04" rx="0.82" ry="0.41" transform="rotate(19.69 94.3 413.04)" fill="#8088b8" opacity="0.27"/>
<ellipse cx="97.9" cy="414.25" rx="0.8" ry="0.47" transform="rotate(17.78 97.9 414.25)" fill="#8088b8" opacity="0.34"/>
<ellipse cx="102.07" cy="414.28" rx="0.72" ry="0.46" transform="rotate(15.74 102.07 414.28)" fill="#8088b8" opacity="0.35"/>
<ellipse cx="105.29" cy="415.58" rx="0.89" ry="0.39" transform="rotate(13.87 105.29 415.58)" fill="#8088b8" opacity="0.4"/>
<ellipse cx="112.21" cy="417.12" rx="0.85" ry="0.5" transform="rotate(9.52 112.21 417.12)" fill="#8088b8" opacity="0.33"/>
<ellipse cx="115.73" cy="417.77" rx="0.72" ry="0.49" transform="rotate(6.92 115.73 417.77)" fill="#8088b8" opacity="0.36"/>
<ellipse cx="119.32" cy="417.55" rx="0.63" ry="0.5" transform="rotate(3.93 119.32 417.55)" fill="#8088b8" opacity="0.37"/>
<ellipse cx="122.87" cy="418.49" rx="0.88" ry="0.44" transform="rotate(1.09 122.87 418.49)" fill="#8088b8" opacity="0.32"/>
<ellipse cx="126.64" cy="418.23" rx="0.82" ry="0.48" transform="rotate(-1.24 126.64 418.23)" fill="#8088b8" opacity="0.34"/>
<ellipse cx="130.5" cy="417.95" rx="0.87" ry="0.43" transform="rotate(-3.32 130.5 417.95)" fill="#8088b8" opacity="0.26"/>
<ellipse cx="138.17" cy="416.44" rx="0.7" ry="0.44" transform="rotate(-7.21 138.17 416.44)" fill="#8088b8" opacity="0.37"/>
<ellipse cx="142.11" cy="417.1" rx="0.64" ry="0.42" transform="rotate(-9.23 142.11 417.1)" fill="#8088b8" opacity="0.37"/>
<ellipse cx="148.98" cy="415.11" rx="0.65" ry="0.46" transform="rotate(-14.01 148.98 415.11)" fill="#8088b8" opacity="0.37"/>
<ellipse cx="156.34" cy="413.33" rx="0.72" ry="0.5" transform="rotate(-21.09 156.34 413.33)" fill="#8088b8" opacity="0.35"/>
<ellipse cx="162.63" cy="410.17" rx="0.77" ry="0.5" transform="rotate(-28.52 162.63 410.17)" fill="#8088b8" opacity="0.28"/>
<ellipse cx="165.91" cy="407.92" rx="0.84" ry="0.53" transform="rotate(-32.69 165.91 407.92)" fill="#8088b8" opacity="0.35"/>
<ellipse cx="169.12" cy="405.62" rx="0.68" ry="0.52" transform="rotate(-36.53 169.12 405.62)" fill="#8088b8" opacity="0.35"/>
<ellipse cx="174.75" cy="401.39" rx="0.76" ry="0.41" transform="rotate(-45.2 174.75 401.39)" fill="#8088b8" opacity="0.38"/>
<ellipse cx="176.38" cy="397.92" rx="0.65" ry="0.54" transform="rotate(-48.75 176.38 397.92)" fill="#8088b8" opacity="0.33"/>
<ellipse cx="179.23" cy="395.54" rx="0.91" ry="0.48" transform="rotate(-51.56 179.23 395.54)" fill="#8088b8" opacity="0.33"/>
<ellipse cx="181.6" cy="392.84" rx="0.9" ry="0.43" transform="rotate(-53.83 181.6 392.84)" fill="#8088b8" opacity="0.4"/>
<ellipse cx="184.07" cy="389.73" rx="0.65" ry="0.39" transform="rotate(-55.98 184.07 389.73)" fill="#8088b8" opacity="0.29"/>
<ellipse cx="185.05" cy="386.14" rx="0.69" ry="0.41" transform="rotate(-58.12 185.05 386.14)" fill="#8088b8" opacity="0.38"/>
<ellipse cx="187.9" cy="379.56" rx="0.89" ry="0.46" transform="rotate(-69.83 187.9 379.56)" fill="#8088b8" opacity="0.26"/>
<ellipse cx="189.72" cy="376.35" rx="0.73" ry="0.39" transform="rotate(-73.06 189.72 376.35)" fill="#8088b8" opacity="0.37"/>
<ellipse cx="190.62" cy="373.06" rx="0.67" ry="0.41" transform="rotate(-73.06 190.62 373.06)" fill="#8088b8" opacity="0.37"/>
<rect x="183" y="369.8" width="17" height="55" fill="url(#rstrip)"/>
<path d="M47.5,369 L47.5,398" fill="none" stroke="#9a7a68" stroke-width="2" opacity="0.6"/>
<path d="M52,369 C52.17,370.83 52.33,376.5 53,380 C53.67,383.5 54.83,387 56,390 C57.17,393 58.67,395.67 60,398 C61.33,400.33 63.33,403 64,404" fill="none" stroke="#a9a8b8" stroke-width="3" opacity="0.5"/>
<path d="M52,402 q6,-3 9,4 t8,6 M49,410 q5,2 8,-3 t9,5 M60,418 q4,-5 10,-1 M72,404 q3,6 9,5 M66,395 q-4,5 -2,9 M80,412 q4,4 2,9" fill="none" stroke="#8d8790" stroke-width="0.8" opacity="0.55"/>
<path d="M60,369 C60.33,370.83 61,376.5 62,380 C63,383.5 64.33,387 66,390 C67.67,393 71,396.67 72,398" fill="none" stroke="#9aa0c8" stroke-width="5" opacity="0.35"/>
<ellipse cx="182" cy="378" rx="1.8" ry="1.2" fill="#6670b0" opacity="0.6"/>
<ellipse cx="173" cy="388" rx="1.8" ry="1.2" fill="#6670b0" opacity="0.6"/>
<ellipse cx="157" cy="403" rx="1.8" ry="1.2" fill="#6670b0" opacity="0.6"/>
<ellipse cx="99" cy="413.4" rx="1.8" ry="1.2" fill="#6670b0" opacity="0.6"/>
<ellipse cx="74" cy="397" rx="1.8" ry="1.2" fill="#6670b0" opacity="0.6"/>
<ellipse cx="150" cy="406" rx="1.8" ry="1.2" fill="#6670b0" opacity="0.6"/>
</g>
<rect x="201.7" y="252.4" width="6.6" height="54.8" fill="#c8102e"/>
<rect x="201.7" y="311" width="6.6" height="54.9" fill="#3aaa35"/>
<rect x="201.7" y="369.8" width="6.6" height="55" fill="#fbb912"/>
<text x="50.8" y="303" font-size="10" fill="#4a56a6" font-style="italic" textLength="24" lengthAdjust="spacingAndGlyphs" stroke="#4a56a6" stroke-width="0.1">cmyb</text>
<text x="198.9" y="304.7" font-size="10.6" fill="#1a1a1a" text-anchor="end" textLength="20.8" lengthAdjust="spacingAndGlyphs" stroke="#1a1a1a" stroke-width="0.1">High</text>
<text x="198.4" y="363.4" font-size="10.6" fill="#1a1a1a" text-anchor="end" textLength="54.2" lengthAdjust="spacingAndGlyphs" stroke="#1a1a1a" stroke-width="0.1">Intermediate</text>
<text x="198.9" y="422.2" font-size="10.5" fill="#1a1a1a" text-anchor="end" textLength="18.2" lengthAdjust="spacingAndGlyphs" stroke="#1a1a1a" stroke-width="0.1">Low</text>
<text x="256" y="240.9" font-size="15" fill="#111" font-weight="bold" stroke="#111" stroke-width="0.4">D</text>
<text x="312.3" y="242.5" font-size="12.2" fill="#2a2a2a" textLength="176.9" lengthAdjust="spacingAndGlyphs" stroke="none"><tspan font-style="italic">cmyb</tspan> staining intensity at 33 hpf</text>
<line x1="317.4" y1="249.7" x2="317.4" y2="407.1" stroke="#111" stroke-width="1.3"/>
<line x1="316.9" y1="406.6" x2="483.3" y2="406.6" stroke="#111" stroke-width="1.3"/>
<line x1="313.7" y1="406.8" x2="317.4" y2="406.8" stroke="#111" stroke-width="1"/>
<text x="309.3" y="410.4" font-size="10.4" fill="#2a2a2a" text-anchor="end" textLength="5.7" lengthAdjust="spacingAndGlyphs" stroke="#2a2a2a" stroke-width="0.1">0</text>
<line x1="313.7" y1="335.5" x2="317.4" y2="335.5" stroke="#111" stroke-width="1"/>
<text x="309.3" y="339.1" font-size="10.4" fill="#2a2a2a" text-anchor="end" textLength="11.7" lengthAdjust="spacingAndGlyphs" stroke="#2a2a2a" stroke-width="0.1">50</text>
<line x1="313.7" y1="264.2" x2="317.4" y2="264.2" stroke="#111" stroke-width="1"/>
<text x="309.3" y="267.8" font-size="10.4" fill="#2a2a2a" text-anchor="end" textLength="17.7" lengthAdjust="spacingAndGlyphs" stroke="#2a2a2a" stroke-width="0.1">100</text>
<text transform="translate(284,355.2) rotate(-90)" font-size="13.2" fill="#2a2a2a" textLength="54.1" lengthAdjust="spacingAndGlyphs" stroke="#2a2a2a" stroke-width="0.15" font-weight="bold">% of embryos</text>
<rect x="333" y="264.2" width="22.7" height="62.3" fill="#c4001f"/>
<rect x="333" y="326.5" width="22.7" height="36" fill="#39a935"/>
<rect x="333" y="362.5" width="22.7" height="43.6" fill="#fbbb10"/>
<rect x="371.7" y="264.2" width="22.6" height="15.8" fill="#c4001f"/>
<rect x="371.7" y="280" width="22.6" height="45.75" fill="#39a935"/>
<rect x="371.7" y="325.75" width="22.6" height="80.35" fill="#fbbb10"/>
<rect x="410" y="264.2" width="22.8" height="39.8" fill="#c4001f"/>
<rect x="410" y="304" width="22.8" height="63.25" fill="#39a935"/>
<rect x="410" y="367.25" width="22.8" height="38.85" fill="#fbbb10"/>
<rect x="448.3" y="264.2" width="22.6" height="44.5" fill="#c4001f"/>
<rect x="448.3" y="308.7" width="22.6" height="62.3" fill="#39a935"/>
<rect x="448.3" y="371" width="22.6" height="35.1" fill="#fbbb10"/>
<line x1="344.4" y1="406.6" x2="344.4" y2="410" stroke="#111" stroke-width="1"/>
<line x1="383" y1="406.6" x2="383" y2="410" stroke="#111" stroke-width="1"/>
<line x1="421.4" y1="406.6" x2="421.4" y2="410" stroke="#111" stroke-width="1"/>
<line x1="459.6" y1="406.6" x2="459.6" y2="410" stroke="#111" stroke-width="1"/>
<text x="336.3" y="424.7" font-size="10" fill="#2a2a2a" textLength="16.4" lengthAdjust="spacingAndGlyphs" stroke="#2a2a2a" stroke-width="0.1">WT</text>
<text x="361.8" y="424.7" font-size="10" fill="#2a2a2a" font-style="italic" textLength="41.6" lengthAdjust="spacingAndGlyphs" stroke="#2a2a2a" stroke-width="0.1">gata2b<tspan font-size="7.6" dy="-3.9">−/−</tspan></text>
<text x="413.2" y="424.7" font-size="10" fill="#2a2a2a" textLength="16.3" lengthAdjust="spacingAndGlyphs" stroke="#2a2a2a" stroke-width="0.1">WT</text>
<text x="438.3" y="424.7" font-size="10" fill="#2a2a2a" font-style="italic" textLength="43.5" lengthAdjust="spacingAndGlyphs" stroke="#2a2a2a" stroke-width="0.1">gata2b<tspan font-size="7.6" dy="-3.9">−/−</tspan></text>
<line x1="331.4" y1="437.6" x2="399.1" y2="437.6" stroke="#222" stroke-width="1.1"/>
<line x1="331.4" y1="435" x2="331.4" y2="440.2" stroke="#222" stroke-width="1.1"/>
<line x1="399.1" y1="435" x2="399.1" y2="440.2" stroke="#222" stroke-width="1.1"/>
<line x1="407.6" y1="437.6" x2="475.3" y2="437.6" stroke="#222" stroke-width="1.1"/>
<line x1="407.6" y1="435" x2="407.6" y2="440.2" stroke="#222" stroke-width="1.1"/>
<line x1="475.3" y1="435" x2="475.3" y2="440.2" stroke="#222" stroke-width="1.1"/>
<text x="341.2" y="452.5" font-size="10" fill="#2a2a2a" textLength="48.1" lengthAdjust="spacingAndGlyphs" stroke="#2a2a2a" stroke-width="0.1">Uninjected</text>
<text x="424" y="452.5" font-size="10" fill="#2a2a2a" textLength="35.9" lengthAdjust="spacingAndGlyphs" stroke="#2a2a2a" stroke-width="0.1">Injected</text>
<rect x="324.9" y="463.7" width="8.2" height="7.6" fill="#c4001f"/>
<text x="338" y="470.2" font-size="10" fill="#2a2a2a" textLength="19.6" lengthAdjust="spacingAndGlyphs" stroke="#2a2a2a" stroke-width="0.1">High</text>
<rect x="369" y="463.7" width="8.9" height="7.6" fill="#39a935"/>
<text x="382.1" y="470.2" font-size="10" fill="#2a2a2a" textLength="51.7" lengthAdjust="spacingAndGlyphs" stroke="#2a2a2a" stroke-width="0.1">Intermediate</text>
<rect x="445.9" y="463.7" width="8.8" height="7.6" fill="#fbbb10"/>
<text x="458" y="470.2" font-size="10" fill="#2a2a2a" textLength="18.3" lengthAdjust="spacingAndGlyphs" stroke="#2a2a2a" stroke-width="0.1">Low</text>
<text x="0.6" y="460.6" font-size="15" fill="#111" font-weight="bold" stroke="#111" stroke-width="0.4">E</text>
<text x="72.1" y="461" font-size="12.2" fill="#2a2a2a" textLength="126.6" lengthAdjust="spacingAndGlyphs" stroke="none"><tspan font-style="italic">CD41</tspan><tspan font-size="8" dy="-4.8">int</tspan><tspan dy="4.8"> HSCs at 3 dpf</tspan></text>
<line x1="57" y1="471.9" x2="57" y2="561.7" stroke="#111" stroke-width="1.3"/>
<line x1="56.5" y1="561.2" x2="213.8" y2="561.2" stroke="#111" stroke-width="1.3"/>
<line x1="53.6" y1="561.2" x2="57" y2="561.2" stroke="#111" stroke-width="1"/>
<text x="48.6" y="564.7" font-size="10.2" fill="#2a2a2a" text-anchor="end" textLength="5.7" lengthAdjust="spacingAndGlyphs" stroke="#2a2a2a" stroke-width="0.1">0</text>
<line x1="55.4" y1="554.14" x2="57" y2="554.14" stroke="#111" stroke-width="0.9"/>
<line x1="55.4" y1="547.08" x2="57" y2="547.08" stroke="#111" stroke-width="0.9"/>
<line x1="55.4" y1="540.03" x2="57" y2="540.03" stroke="#111" stroke-width="0.9"/>
<line x1="53.6" y1="532.97" x2="57" y2="532.97" stroke="#111" stroke-width="1"/>
<text x="48.6" y="536.47" font-size="10.2" fill="#2a2a2a" text-anchor="end" textLength="11.6" lengthAdjust="spacingAndGlyphs" stroke="#2a2a2a" stroke-width="0.1">20</text>
<line x1="55.4" y1="525.91" x2="57" y2="525.91" stroke="#111" stroke-width="0.9"/>
<line x1="55.4" y1="518.85" x2="57" y2="518.85" stroke="#111" stroke-width="0.9"/>
<line x1="55.4" y1="511.79" x2="57" y2="511.79" stroke="#111" stroke-width="0.9"/>
<line x1="53.6" y1="504.73" x2="57" y2="504.73" stroke="#111" stroke-width="1"/>
<text x="48.6" y="508.23" font-size="10.2" fill="#2a2a2a" text-anchor="end" textLength="11.6" lengthAdjust="spacingAndGlyphs" stroke="#2a2a2a" stroke-width="0.1">40</text>
<line x1="55.4" y1="497.68" x2="57" y2="497.68" stroke="#111" stroke-width="0.9"/>
<line x1="55.4" y1="490.62" x2="57" y2="490.62" stroke="#111" stroke-width="0.9"/>
<line x1="55.4" y1="483.56" x2="57" y2="483.56" stroke="#111" stroke-width="0.9"/>
<line x1="53.6" y1="476.5" x2="57" y2="476.5" stroke="#111" stroke-width="1"/>
<text x="48.6" y="480" font-size="10.2" fill="#2a2a2a" text-anchor="end" textLength="11.6" lengthAdjust="spacingAndGlyphs" stroke="#2a2a2a" stroke-width="0.1">60</text>
<text transform="translate(29.2,562.8) rotate(-90)" font-size="12.9" fill="#2a2a2a" textLength="91.6" lengthAdjust="spacingAndGlyphs" stroke="#2a2a2a" stroke-width="0.15" font-weight="bold">Number of CD41<tspan font-size="8" dy="-5.5">int</tspan><tspan dy="5.5"> cells</tspan></text>
<line x1="67" y1="561.2" x2="67" y2="564.2" stroke="#111" stroke-width="1"/>
<line x1="92.5" y1="561.2" x2="92.5" y2="564.2" stroke="#111" stroke-width="1"/>
<line x1="117.5" y1="561.2" x2="117.5" y2="564.2" stroke="#111" stroke-width="1"/>
<line x1="160.8" y1="561.2" x2="160.8" y2="564.2" stroke="#111" stroke-width="1"/>
<line x1="197.2" y1="561.2" x2="197.2" y2="564.2" stroke="#111" stroke-width="1"/>
<line x1="71.25" y1="561.2" x2="71.25" y2="563" stroke="#111" stroke-width="0.8"/>
<line x1="75.5" y1="561.2" x2="75.5" y2="563" stroke="#111" stroke-width="0.8"/>
<line x1="79.75" y1="561.2" x2="79.75" y2="563" stroke="#111" stroke-width="0.8"/>
<line x1="84" y1="561.2" x2="84" y2="563" stroke="#111" stroke-width="0.8"/>
<line x1="88.25" y1="561.2" x2="88.25" y2="563" stroke="#111" stroke-width="0.8"/>
<line x1="96.67" y1="561.2" x2="96.67" y2="563" stroke="#111" stroke-width="0.8"/>
<line x1="100.83" y1="561.2" x2="100.83" y2="563" stroke="#111" stroke-width="0.8"/>
<line x1="105" y1="561.2" x2="105" y2="563" stroke="#111" stroke-width="0.8"/>
<line x1="109.17" y1="561.2" x2="109.17" y2="563" stroke="#111" stroke-width="0.8"/>
<line x1="113.33" y1="561.2" x2="113.33" y2="563" stroke="#111" stroke-width="0.8"/>
<line x1="130.53" y1="561.2" x2="130.53" y2="563" stroke="#111" stroke-width="0.8"/>
<line x1="138.16" y1="561.2" x2="138.16" y2="563" stroke="#111" stroke-width="0.8"/>
<line x1="143.57" y1="561.2" x2="143.57" y2="563" stroke="#111" stroke-width="0.8"/>
<line x1="147.77" y1="561.2" x2="147.77" y2="563" stroke="#111" stroke-width="0.8"/>
<line x1="151.19" y1="561.2" x2="151.19" y2="563" stroke="#111" stroke-width="0.8"/>
<line x1="154.09" y1="561.2" x2="154.09" y2="563" stroke="#111" stroke-width="0.8"/>
<line x1="156.6" y1="561.2" x2="156.6" y2="563" stroke="#111" stroke-width="0.8"/>
<line x1="158.82" y1="561.2" x2="158.82" y2="563" stroke="#111" stroke-width="0.8"/>
<line x1="171.76" y1="561.2" x2="171.76" y2="563" stroke="#111" stroke-width="0.8"/>
<line x1="178.17" y1="561.2" x2="178.17" y2="563" stroke="#111" stroke-width="0.8"/>
<line x1="182.71" y1="561.2" x2="182.71" y2="563" stroke="#111" stroke-width="0.8"/>
<line x1="186.24" y1="561.2" x2="186.24" y2="563" stroke="#111" stroke-width="0.8"/>
<line x1="189.12" y1="561.2" x2="189.12" y2="563" stroke="#111" stroke-width="0.8"/>
<line x1="191.56" y1="561.2" x2="191.56" y2="563" stroke="#111" stroke-width="0.8"/>
<line x1="193.67" y1="561.2" x2="193.67" y2="563" stroke="#111" stroke-width="0.8"/>
<line x1="195.53" y1="561.2" x2="195.53" y2="563" stroke="#111" stroke-width="0.8"/>
<rect x="88.6" y="561.2" width="7" height="2.8" fill="#1a1a1a"/>
<text x="56.2" y="579.3" font-size="10.3" fill="#2a2a2a" textLength="23" lengthAdjust="spacingAndGlyphs" stroke="#2a2a2a" stroke-width="0.1">−10<tspan font-size="7" dy="-4.2">3</tspan></text>
<text x="92.4" y="579.3" font-size="10.3" fill="#2a2a2a" text-anchor="middle" stroke="#2a2a2a" stroke-width="0.1">0</text>
<text x="111" y="579.3" font-size="10.3" fill="#2a2a2a" textLength="15.5" lengthAdjust="spacingAndGlyphs" stroke="#2a2a2a" stroke-width="0.1">10<tspan font-size="7" dy="-4.2">3</tspan></text>
<text x="153.4" y="579.3" font-size="10.3" fill="#2a2a2a" textLength="16.1" lengthAdjust="spacingAndGlyphs" stroke="#2a2a2a" stroke-width="0.1">10<tspan font-size="7" dy="-4.2">4</tspan></text>
<text x="189.7" y="579.3" font-size="10.3" fill="#2a2a2a" textLength="16.5" lengthAdjust="spacingAndGlyphs" stroke="#2a2a2a" stroke-width="0.1">10<tspan font-size="7" dy="-4.2">5</tspan></text>
<line x1="66" y1="480.2" x2="85.6" y2="480.2" stroke="#1f6e56" stroke-width="1.2" stroke-dasharray="3.4 2"/>
<line x1="66" y1="492.7" x2="85.6" y2="492.7" stroke="#1f6e56" stroke-width="1.4"/>
<text x="90.2" y="483" font-size="9.3" fill="#2a2a2a" textLength="61.3" lengthAdjust="spacingAndGlyphs" stroke="#2a2a2a" stroke-width="0.1">WT uninjected</text>
<text x="90.2" y="495.5" font-size="9.3" fill="#2a2a2a" textLength="50.6" lengthAdjust="spacingAndGlyphs" stroke="#2a2a2a" stroke-width="0.1">WT injected</text>
<polyline points="57,560.9 125,560.9 127.8,560.6 129.5,559 131.2,556 133.2,548.5 135.2,541.1 137.2,535.5 139.2,530.4 141,526.5 142.6,522.3 143.6,517 144.6,512.9 146,507.5 147.3,504.8 148.6,505.3 150,507.5 151,511 152,515.6 154,520.3 155.3,521.3 156.7,522.3 157.8,525 158.7,529 160.8,541.1 162.8,551.9 164.2,556.5 165.5,559.3 168.2,560.9 213.5,560.9" fill="none" stroke="#1f6e56" stroke-width="1.35" stroke-linejoin="round"/>
<polyline points="57,561 126.5,561 128.5,560 130.5,551 132.5,541.1 135.2,525 136.8,521 138.6,518.9 140.6,508.8 141.9,506.2 143.9,512.9 146.6,525 148.6,522.3 151.3,516.9 153.4,521 155.4,533 158.1,535.8 161.4,546.5 164.8,557.3 168.2,560.7 170,561" fill="none" stroke="#1f6e56" stroke-width="1.25" stroke-linejoin="round" stroke-dasharray="3.6 2.2"/>
<text x="0.2" y="605.6" font-size="15" fill="#111" font-weight="bold" stroke="#111" stroke-width="0.4">F</text>
<line x1="57" y1="611.5" x2="57" y2="700.8" stroke="#111" stroke-width="1.3"/>
<line x1="56.5" y1="700.3" x2="213.8" y2="700.3" stroke="#111" stroke-width="1.3"/>
<line x1="53.6" y1="700.3" x2="57" y2="700.3" stroke="#111" stroke-width="1"/>
<text x="48.6" y="703.8" font-size="10.2" fill="#2a2a2a" text-anchor="end" textLength="5.7" lengthAdjust="spacingAndGlyphs" stroke="#2a2a2a" stroke-width="0.1">0</text>
<line x1="55.4" y1="693.26" x2="57" y2="693.26" stroke="#111" stroke-width="0.9"/>
<line x1="55.4" y1="686.22" x2="57" y2="686.22" stroke="#111" stroke-width="0.9"/>
<line x1="55.4" y1="679.17" x2="57" y2="679.17" stroke="#111" stroke-width="0.9"/>
<line x1="53.6" y1="672.13" x2="57" y2="672.13" stroke="#111" stroke-width="1"/>
<text x="48.6" y="675.63" font-size="10.2" fill="#2a2a2a" text-anchor="end" textLength="11.6" lengthAdjust="spacingAndGlyphs" stroke="#2a2a2a" stroke-width="0.1">20</text>
<line x1="55.4" y1="665.09" x2="57" y2="665.09" stroke="#111" stroke-width="0.9"/>
<line x1="55.4" y1="658.05" x2="57" y2="658.05" stroke="#111" stroke-width="0.9"/>
<line x1="55.4" y1="651.01" x2="57" y2="651.01" stroke="#111" stroke-width="0.9"/>
<line x1="53.6" y1="643.97" x2="57" y2="643.97" stroke="#111" stroke-width="1"/>
<text x="48.6" y="647.47" font-size="10.2" fill="#2a2a2a" text-anchor="end" textLength="11.6" lengthAdjust="spacingAndGlyphs" stroke="#2a2a2a" stroke-width="0.1">40</text>
<line x1="55.4" y1="636.92" x2="57" y2="636.92" stroke="#111" stroke-width="0.9"/>
<line x1="55.4" y1="629.88" x2="57" y2="629.88" stroke="#111" stroke-width="0.9"/>
<line x1="55.4" y1="622.84" x2="57" y2="622.84" stroke="#111" stroke-width="0.9"/>
<line x1="53.6" y1="615.8" x2="57" y2="615.8" stroke="#111" stroke-width="1"/>
<text x="48.6" y="619.3" font-size="10.2" fill="#2a2a2a" text-anchor="end" textLength="11.6" lengthAdjust="spacingAndGlyphs" stroke="#2a2a2a" stroke-width="0.1">60</text>
<text transform="translate(29.2,701.3) rotate(-90)" font-size="12.9" fill="#2a2a2a" textLength="91.3" lengthAdjust="spacingAndGlyphs" stroke="#2a2a2a" stroke-width="0.15" font-weight="bold">Number of CD41<tspan font-size="8" dy="-5.5">int</tspan><tspan dy="5.5"> cells</tspan></text>
<line x1="67" y1="700.3" x2="67" y2="703.3" stroke="#111" stroke-width="1"/>
<line x1="92.5" y1="700.3" x2="92.5" y2="703.3" stroke="#111" stroke-width="1"/>
<line x1="117.5" y1="700.3" x2="117.5" y2="703.3" stroke="#111" stroke-width="1"/>
<line x1="160.8" y1="700.3" x2="160.8" y2="703.3" stroke="#111" stroke-width="1"/>
<line x1="197.2" y1="700.3" x2="197.2" y2="703.3" stroke="#111" stroke-width="1"/>
<line x1="71.25" y1="700.3" x2="71.25" y2="702.1" stroke="#111" stroke-width="0.8"/>
<line x1="75.5" y1="700.3" x2="75.5" y2="702.1" stroke="#111" stroke-width="0.8"/>
<line x1="79.75" y1="700.3" x2="79.75" y2="702.1" stroke="#111" stroke-width="0.8"/>
<line x1="84" y1="700.3" x2="84" y2="702.1" stroke="#111" stroke-width="0.8"/>
<line x1="88.25" y1="700.3" x2="88.25" y2="702.1" stroke="#111" stroke-width="0.8"/>
<line x1="96.67" y1="700.3" x2="96.67" y2="702.1" stroke="#111" stroke-width="0.8"/>
<line x1="100.83" y1="700.3" x2="100.83" y2="702.1" stroke="#111" stroke-width="0.8"/>
<line x1="105" y1="700.3" x2="105" y2="702.1" stroke="#111" stroke-width="0.8"/>
<line x1="109.17" y1="700.3" x2="109.17" y2="702.1" stroke="#111" stroke-width="0.8"/>
<line x1="113.33" y1="700.3" x2="113.33" y2="702.1" stroke="#111" stroke-width="0.8"/>
<line x1="130.53" y1="700.3" x2="130.53" y2="702.1" stroke="#111" stroke-width="0.8"/>
<line x1="138.16" y1="700.3" x2="138.16" y2="702.1" stroke="#111" stroke-width="0.8"/>
<line x1="143.57" y1="700.3" x2="143.57" y2="702.1" stroke="#111" stroke-width="0.8"/>
<line x1="147.77" y1="700.3" x2="147.77" y2="702.1" stroke="#111" stroke-width="0.8"/>
<line x1="151.19" y1="700.3" x2="151.19" y2="702.1" stroke="#111" stroke-width="0.8"/>
<line x1="154.09" y1="700.3" x2="154.09" y2="702.1" stroke="#111" stroke-width="0.8"/>
<line x1="156.6" y1="700.3" x2="156.6" y2="702.1" stroke="#111" stroke-width="0.8"/>
<line x1="158.82" y1="700.3" x2="158.82" y2="702.1" stroke="#111" stroke-width="0.8"/>
<line x1="171.76" y1="700.3" x2="171.76" y2="702.1" stroke="#111" stroke-width="0.8"/>
<line x1="178.17" y1="700.3" x2="178.17" y2="702.1" stroke="#111" stroke-width="0.8"/>
<line x1="182.71" y1="700.3" x2="182.71" y2="702.1" stroke="#111" stroke-width="0.8"/>
<line x1="186.24" y1="700.3" x2="186.24" y2="702.1" stroke="#111" stroke-width="0.8"/>
<line x1="189.12" y1="700.3" x2="189.12" y2="702.1" stroke="#111" stroke-width="0.8"/>
<line x1="191.56" y1="700.3" x2="191.56" y2="702.1" stroke="#111" stroke-width="0.8"/>
<line x1="193.67" y1="700.3" x2="193.67" y2="702.1" stroke="#111" stroke-width="0.8"/>
<line x1="195.53" y1="700.3" x2="195.53" y2="702.1" stroke="#111" stroke-width="0.8"/>
<rect x="88.6" y="700.3" width="7" height="2.8" fill="#1a1a1a"/>
<text x="56.2" y="717.4" font-size="10.3" fill="#2a2a2a" textLength="23" lengthAdjust="spacingAndGlyphs" stroke="#2a2a2a" stroke-width="0.1">−10<tspan font-size="7" dy="-4.2">3</tspan></text>
<text x="92.4" y="717.4" font-size="10.3" fill="#2a2a2a" text-anchor="middle" stroke="#2a2a2a" stroke-width="0.1">0</text>
<text x="111" y="717.4" font-size="10.3" fill="#2a2a2a" textLength="15.5" lengthAdjust="spacingAndGlyphs" stroke="#2a2a2a" stroke-width="0.1">10<tspan font-size="7" dy="-4.2">3</tspan></text>
<text x="153.4" y="717.4" font-size="10.3" fill="#2a2a2a" textLength="16.1" lengthAdjust="spacingAndGlyphs" stroke="#2a2a2a" stroke-width="0.1">10<tspan font-size="7" dy="-4.2">4</tspan></text>
<text x="189.7" y="717.4" font-size="10.3" fill="#2a2a2a" textLength="16.5" lengthAdjust="spacingAndGlyphs" stroke="#2a2a2a" stroke-width="0.1">10<tspan font-size="7" dy="-4.2">5</tspan></text>
<line x1="64.8" y1="612.7" x2="85.2" y2="612.7" stroke="#f2a53a" stroke-width="1.2" stroke-dasharray="3.4 2"/>
<line x1="65.2" y1="627.6" x2="85.2" y2="627.6" stroke="#f2a53a" stroke-width="1.4"/>
<text x="89.6" y="615.5" font-size="9.3" fill="#2a2a2a" textLength="86.7" lengthAdjust="spacingAndGlyphs" stroke="#2a2a2a" stroke-width="0.1"><tspan font-style="italic">gata2b</tspan><tspan font-size="6.8" dy="-4.2">−/−</tspan><tspan dy="4.2"> uninjected</tspan></text>
<text x="89.6" y="630.3" font-size="9.3" fill="#2a2a2a" textLength="75.4" lengthAdjust="spacingAndGlyphs" stroke="#2a2a2a" stroke-width="0.1"><tspan font-style="italic">gata2b</tspan><tspan font-size="6.8" dy="-4.2">−/−</tspan><tspan dy="4.2"> injected</tspan></text>
<polyline points="57,700.2 125,700.2 127.8,700 130,695.5 132.5,689.2 134.5,683 136.5,677.1 138,671.5 139.2,666.3 140.2,660 141.2,654.2 142.2,650.3 143.3,648.2 144.6,649.5 146,650.9 147.4,647 148.6,643.5 149.5,640 150.3,638.7 151.2,640 152,643.5 153,652 154,663.6 155,673 156,681.1 157.5,686.5 159.4,690.6 161.5,695 163.5,698.6 165.5,700.2 213.5,700.2" fill="none" stroke="#f2a53a" stroke-width="1.35" stroke-linejoin="round"/>
<polyline points="126.5,700.2 128,699.5 130,695 132.5,689.5 134.5,684 136.5,678 138,673 139.2,670 140.6,669.3 142.5,670.5 145,672.5 147.3,674.4 150,676.8 153,679.5 155.4,682.5 158.1,687.9 160.5,692.5 163,697 165.5,700" fill="none" stroke="#f2a53a" stroke-width="1.25" stroke-linejoin="round" stroke-dasharray="3.6 2.2"/>
<text x="115.4" y="735.7" font-size="12.1" fill="#2a2a2a" textLength="39.4" lengthAdjust="spacingAndGlyphs" stroke="#2a2a2a" stroke-width="0.15" font-weight="bold">CD41:GFP</text>
<text x="255.8" y="513.8" font-size="15" fill="#111" font-weight="bold" stroke="#111" stroke-width="0.4">G</text>
<text x="333.5" y="515.8" font-size="12.2" fill="#2a2a2a" textLength="127.7" lengthAdjust="spacingAndGlyphs" stroke="none"><tspan font-style="italic">CD41</tspan><tspan font-size="8" dy="-4.8">int</tspan><tspan dy="4.8"> HSCs at 3 dpf</tspan></text>
<line x1="317.1" y1="525.7" x2="317.1" y2="700.2" stroke="#111" stroke-width="1.3"/>
<line x1="316.6" y1="699.7" x2="475.3" y2="699.7" stroke="#111" stroke-width="1.3"/>
<line x1="313.7" y1="699.9" x2="317.1" y2="699.9" stroke="#111" stroke-width="1"/>
<text x="309.1" y="703.5" font-size="10.4" fill="#2a2a2a" text-anchor="end" textLength="20.4" lengthAdjust="spacingAndGlyphs" stroke="#2a2a2a" stroke-width="0.1">0.00</text>
<line x1="313.7" y1="657.27" x2="317.1" y2="657.27" stroke="#111" stroke-width="1"/>
<text x="309.1" y="660.88" font-size="10.4" fill="#2a2a2a" text-anchor="end" textLength="20.4" lengthAdjust="spacingAndGlyphs" stroke="#2a2a2a" stroke-width="0.1">0.05</text>
<line x1="313.7" y1="614.65" x2="317.1" y2="614.65" stroke="#111" stroke-width="1"/>
<text x="309.1" y="618.25" font-size="10.4" fill="#2a2a2a" text-anchor="end" textLength="20.4" lengthAdjust="spacingAndGlyphs" stroke="#2a2a2a" stroke-width="0.1">0.10</text>
<line x1="313.7" y1="572.02" x2="317.1" y2="572.02" stroke="#111" stroke-width="1"/>
<text x="309.1" y="575.62" font-size="10.4" fill="#2a2a2a" text-anchor="end" textLength="20.4" lengthAdjust="spacingAndGlyphs" stroke="#2a2a2a" stroke-width="0.1">0.15</text>
<line x1="313.7" y1="529.4" x2="317.1" y2="529.4" stroke="#111" stroke-width="1"/>
<text x="309.1" y="533" font-size="10.4" fill="#2a2a2a" text-anchor="end" textLength="20.4" lengthAdjust="spacingAndGlyphs" stroke="#2a2a2a" stroke-width="0.1">0.20</text>
<text transform="translate(281,652.3) rotate(-90)" font-size="12.9" fill="#2a2a2a" textLength="79.3" lengthAdjust="spacingAndGlyphs" stroke="#2a2a2a" stroke-width="0.15" font-weight="bold">% in single-live cells</text>
<line x1="343.2" y1="589.1" x2="343.2" y2="608.1" stroke="#333" stroke-width="1.2"/>
<line x1="337.7" y1="589.1" x2="348.7" y2="589.1" stroke="#333" stroke-width="1.2"/>
<rect x="332.3" y="608.1" width="21.8" height="91.6" fill="#8ca897"/>
<line x1="380.2" y1="654.9" x2="380.2" y2="661" stroke="#333" stroke-width="1.2"/>
<line x1="374.7" y1="654.9" x2="385.7" y2="654.9" stroke="#333" stroke-width="1.2"/>
<rect x="369.3" y="661" width="21.8" height="38.7" fill="#f9c98c"/>
<line x1="417.1" y1="601.2" x2="417.1" y2="612.6" stroke="#333" stroke-width="1.2"/>
<line x1="411.6" y1="601.2" x2="422.6" y2="601.2" stroke="#333" stroke-width="1.2"/>
<rect x="406.2" y="612.6" width="21.8" height="87.1" fill="#0e6a4e"/>
<line x1="453.8" y1="630.9" x2="453.8" y2="639.3" stroke="#333" stroke-width="1.2"/>
<line x1="448.3" y1="630.9" x2="459.3" y2="630.9" stroke="#333" stroke-width="1.2"/>
<rect x="442.9" y="639.3" width="21.8" height="60.4" fill="#f28b00"/>
<circle cx="338.7" cy="572" r="2.35" fill="#111"/>
<circle cx="347.8" cy="572" r="2.35" fill="#111"/>
<circle cx="343.3" cy="589.1" r="2.35" fill="#111"/>
<circle cx="343.3" cy="645.7" r="2.35" fill="#111"/>
<circle cx="343.3" cy="658.7" r="2.35" fill="#111"/>
<circle cx="380.2" cy="641.2" r="2.35" fill="#111"/>
<circle cx="371.8" cy="661" r="2.35" fill="#111"/>
<circle cx="380.2" cy="664.7" r="2.35" fill="#111"/>
<circle cx="388.9" cy="661" r="2.35" fill="#111"/>
<circle cx="380.2" cy="674.7" r="2.35" fill="#111"/>
<circle cx="417" cy="589.1" r="2.35" fill="#111"/>
<circle cx="417" cy="597.6" r="2.35" fill="#111"/>
<circle cx="417" cy="628.2" r="2.35" fill="#111"/>
<circle cx="417" cy="633.6" r="2.35" fill="#111"/>
<circle cx="453.8" cy="606.5" r="2.35" fill="#111"/>
<circle cx="453.8" cy="630.9" r="2.35" fill="#111"/>
<circle cx="453.8" cy="637.3" r="2.35" fill="#111"/>
<circle cx="448.6" cy="645.7" r="2.35" fill="#111"/>
<circle cx="458.7" cy="648.7" r="2.35" fill="#111"/>
<circle cx="453.8" cy="663.5" r="2.35" fill="#111"/>
<line x1="343.2" y1="699.7" x2="343.2" y2="703.2" stroke="#111" stroke-width="1"/>
<line x1="380.2" y1="699.7" x2="380.2" y2="703.2" stroke="#111" stroke-width="1"/>
<line x1="417.1" y1="699.7" x2="417.1" y2="703.2" stroke="#111" stroke-width="1"/>
<line x1="453.8" y1="699.7" x2="453.8" y2="703.2" stroke="#111" stroke-width="1"/>
<line x1="341.4" y1="549.2" x2="378.2" y2="549.2" stroke="#222" stroke-width="1.1"/>
<line x1="341.4" y1="547" x2="341.4" y2="551.4" stroke="#222" stroke-width="1.1"/>
<line x1="378.2" y1="547" x2="378.2" y2="551.4" stroke="#222" stroke-width="1.1"/>
<circle cx="360" cy="543.5" r="1.3" fill="#222"/>
<line x1="341.4" y1="560.1" x2="454.3" y2="560.1" stroke="#222" stroke-width="1.1"/>
<line x1="341.4" y1="557.9" x2="341.4" y2="562.3" stroke="#222" stroke-width="1.1"/>
<line x1="454.3" y1="557.9" x2="454.3" y2="562.3" stroke="#222" stroke-width="1.1"/>
<text x="398.2" y="557.8" font-size="10" fill="#222" text-anchor="middle" textLength="10.3" lengthAdjust="spacingAndGlyphs" stroke="#222" stroke-width="0.1">ns</text>
<line x1="416.4" y1="575" x2="453.7" y2="575" stroke="#222" stroke-width="1.1"/>
<line x1="416.4" y1="572.8" x2="416.4" y2="577.2" stroke="#222" stroke-width="1.1"/>
<line x1="453.7" y1="572.8" x2="453.7" y2="577.2" stroke="#222" stroke-width="1.1"/>
<text x="434.9" y="572" font-size="10" fill="#222" text-anchor="middle" textLength="10.3" lengthAdjust="spacingAndGlyphs" stroke="#222" stroke-width="0.1">ns</text>
<text x="334.7" y="718" font-size="10" fill="#2a2a2a" textLength="16.4" lengthAdjust="spacingAndGlyphs" stroke="#2a2a2a" stroke-width="0.1">WT</text>
<text x="358.6" y="718" font-size="10" fill="#2a2a2a" font-style="italic" textLength="43.1" lengthAdjust="spacingAndGlyphs" stroke="#2a2a2a" stroke-width="0.1">gata2b<tspan font-size="7.6" dy="-3.9">−/−</tspan></text>
<text x="408.9" y="718" font-size="10" fill="#2a2a2a" textLength="16.4" lengthAdjust="spacingAndGlyphs" stroke="#2a2a2a" stroke-width="0.1">WT</text>
<text x="432.8" y="718" font-size="10" fill="#2a2a2a" font-style="italic" textLength="42.5" lengthAdjust="spacingAndGlyphs" stroke="#2a2a2a" stroke-width="0.1">gata2b<tspan font-size="7.6" dy="-3.9">−/−</tspan></text>
<line x1="328.2" y1="726.7" x2="396.2" y2="726.7" stroke="#222" stroke-width="1.1"/>
<line x1="328.2" y1="724.1" x2="328.2" y2="729.3" stroke="#222" stroke-width="1.1"/>
<line x1="396.2" y1="724.1" x2="396.2" y2="729.3" stroke="#222" stroke-width="1.1"/>
<line x1="404.3" y1="726.7" x2="472.7" y2="726.7" stroke="#222" stroke-width="1.1"/>
<line x1="404.3" y1="724.1" x2="404.3" y2="729.3" stroke="#222" stroke-width="1.1"/>
<line x1="472.7" y1="724.1" x2="472.7" y2="729.3" stroke="#222" stroke-width="1.1"/>
<text x="337.8" y="740.4" font-size="10" fill="#2a2a2a" textLength="48.3" lengthAdjust="spacingAndGlyphs" stroke="#2a2a2a" stroke-width="0.1">Uninjected</text>
<text x="421.4" y="740.4" font-size="10" fill="#2a2a2a" textLength="34" lengthAdjust="spacingAndGlyphs" stroke="#2a2a2a" stroke-width="0.1">Injected</text>
</svg>
</body></html>
